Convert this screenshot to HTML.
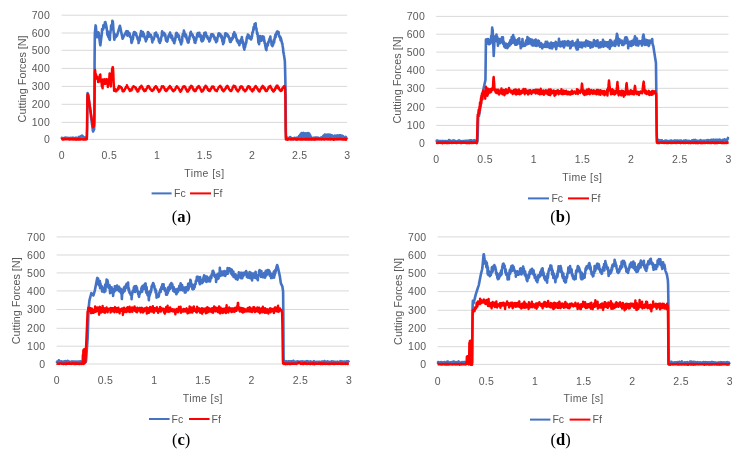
<!DOCTYPE html>
<html><head><meta charset="utf-8"><style>
html,body{margin:0;padding:0;background:#fff;}
svg{display:block;filter:blur(0.3px);}
text{font-family:"Liberation Sans",sans-serif;font-size:10.5px;fill:#595959;}
text.cap{font-family:"Liberation Serif",serif;font-size:16.5px;fill:#000;}
text.tt{letter-spacing:0.4px;}
text.tk{letter-spacing:0.3px;}
text.yt{font-size:10.8px;}
</style></head><body>
<svg width="755" height="457" viewBox="0 0 755 457">
<rect width="755" height="457" fill="#fff"/>
<line x1="61.60" x2="347.20" y1="139.40" y2="139.40" stroke="#D9D9D9" stroke-width="1"/>
<line x1="61.60" x2="347.20" y1="122.40" y2="122.40" stroke="#D9D9D9" stroke-width="1"/>
<line x1="61.60" x2="347.20" y1="104.30" y2="104.30" stroke="#D9D9D9" stroke-width="1"/>
<line x1="61.60" x2="347.20" y1="86.40" y2="86.40" stroke="#D9D9D9" stroke-width="1"/>
<line x1="61.60" x2="347.20" y1="68.40" y2="68.40" stroke="#D9D9D9" stroke-width="1"/>
<line x1="61.60" x2="347.20" y1="50.30" y2="50.30" stroke="#D9D9D9" stroke-width="1"/>
<line x1="61.60" x2="347.20" y1="33.00" y2="33.00" stroke="#D9D9D9" stroke-width="1"/>
<line x1="61.60" x2="347.20" y1="15.20" y2="15.20" stroke="#D9D9D9" stroke-width="1"/>
<text x="50.10" y="143.10" text-anchor="end" class="tk">0</text>
<text x="50.10" y="126.10" text-anchor="end" class="tk">100</text>
<text x="50.10" y="108.00" text-anchor="end" class="tk">200</text>
<text x="50.10" y="90.10" text-anchor="end" class="tk">300</text>
<text x="50.10" y="72.10" text-anchor="end" class="tk">400</text>
<text x="50.10" y="54.00" text-anchor="end" class="tk">500</text>
<text x="50.10" y="36.70" text-anchor="end" class="tk">600</text>
<text x="50.10" y="18.90" text-anchor="end" class="tk">700</text>
<text x="61.75" y="159.30" text-anchor="middle" class="tk">0</text>
<text x="109.35" y="159.30" text-anchor="middle" class="tk">0.5</text>
<text x="156.95" y="159.30" text-anchor="middle" class="tk">1</text>
<text x="204.55" y="159.30" text-anchor="middle" class="tk">1.5</text>
<text x="252.15" y="159.30" text-anchor="middle" class="tk">2</text>
<text x="299.75" y="159.30" text-anchor="middle" class="tk">2.5</text>
<text x="347.35" y="159.30" text-anchor="middle" class="tk">3</text>
<text x="204.40" y="176.60" text-anchor="middle" class="tt">Time [s]</text>
<text transform="translate(21.50,78.92) rotate(-90)" x="0" y="0" text-anchor="middle" dominant-baseline="central" class="yt">Cutting Forces [N]</text>
<line x1="151.6" x2="171.6" y1="193.4" y2="193.4" stroke="#4472C4" stroke-width="2"/>
<text x="174.0" y="197.20">Fc</text>
<line x1="190.0" x2="211.0" y1="193.4" y2="193.4" stroke="#FF0000" stroke-width="2"/>
<text x="213.0" y="197.20">Ff</text>
<text class="cap" x="181.3" y="222.2" text-anchor="middle">(<tspan font-weight="bold">a</tspan>)</text>
<line x1="436.20" x2="728.40" y1="143.10" y2="143.10" stroke="#D9D9D9" stroke-width="1"/>
<line x1="436.20" x2="728.40" y1="125.40" y2="125.40" stroke="#D9D9D9" stroke-width="1"/>
<line x1="436.20" x2="728.40" y1="107.40" y2="107.40" stroke="#D9D9D9" stroke-width="1"/>
<line x1="436.20" x2="728.40" y1="88.30" y2="88.30" stroke="#D9D9D9" stroke-width="1"/>
<line x1="436.20" x2="728.40" y1="70.20" y2="70.20" stroke="#D9D9D9" stroke-width="1"/>
<line x1="436.20" x2="728.40" y1="52.10" y2="52.10" stroke="#D9D9D9" stroke-width="1"/>
<line x1="436.20" x2="728.40" y1="34.20" y2="34.20" stroke="#D9D9D9" stroke-width="1"/>
<line x1="436.20" x2="728.40" y1="16.40" y2="16.40" stroke="#D9D9D9" stroke-width="1"/>
<text x="425.10" y="146.80" text-anchor="end" class="tk">0</text>
<text x="425.10" y="129.10" text-anchor="end" class="tk">100</text>
<text x="425.10" y="111.10" text-anchor="end" class="tk">200</text>
<text x="425.10" y="92.00" text-anchor="end" class="tk">300</text>
<text x="425.10" y="73.90" text-anchor="end" class="tk">400</text>
<text x="425.10" y="55.80" text-anchor="end" class="tk">500</text>
<text x="425.10" y="37.90" text-anchor="end" class="tk">600</text>
<text x="425.10" y="20.10" text-anchor="end" class="tk">700</text>
<text x="436.35" y="163.20" text-anchor="middle" class="tk">0</text>
<text x="485.05" y="163.20" text-anchor="middle" class="tk">0.5</text>
<text x="533.75" y="163.20" text-anchor="middle" class="tk">1</text>
<text x="582.45" y="163.20" text-anchor="middle" class="tk">1.5</text>
<text x="631.15" y="163.20" text-anchor="middle" class="tk">2</text>
<text x="679.85" y="163.20" text-anchor="middle" class="tk">2.5</text>
<text x="728.55" y="163.20" text-anchor="middle" class="tk">3</text>
<text x="582.30" y="180.60" text-anchor="middle" class="tt">Time [s]</text>
<text transform="translate(396.80,80.04) rotate(-90)" x="0" y="0" text-anchor="middle" dominant-baseline="central" class="yt">Cutting Forces [N]</text>
<line x1="528.0" x2="549.0" y1="198.4" y2="198.4" stroke="#4472C4" stroke-width="2"/>
<text x="551.4" y="202.20">Fc</text>
<line x1="568.0" x2="589.0" y1="198.4" y2="198.4" stroke="#FF0000" stroke-width="2"/>
<text x="591.0" y="202.20">Ff</text>
<text class="cap" x="560.4" y="222.4" text-anchor="middle">(<tspan font-weight="bold">b</tspan>)</text>
<line x1="56.60" x2="349.00" y1="364.00" y2="364.00" stroke="#D9D9D9" stroke-width="1"/>
<line x1="56.60" x2="349.00" y1="346.20" y2="346.20" stroke="#D9D9D9" stroke-width="1"/>
<line x1="56.60" x2="349.00" y1="328.30" y2="328.30" stroke="#D9D9D9" stroke-width="1"/>
<line x1="56.60" x2="349.00" y1="309.50" y2="309.50" stroke="#D9D9D9" stroke-width="1"/>
<line x1="56.60" x2="349.00" y1="290.90" y2="290.90" stroke="#D9D9D9" stroke-width="1"/>
<line x1="56.60" x2="349.00" y1="272.90" y2="272.90" stroke="#D9D9D9" stroke-width="1"/>
<line x1="56.60" x2="349.00" y1="255.00" y2="255.00" stroke="#D9D9D9" stroke-width="1"/>
<line x1="56.60" x2="349.00" y1="236.90" y2="236.90" stroke="#D9D9D9" stroke-width="1"/>
<text x="45.50" y="367.70" text-anchor="end" class="tk">0</text>
<text x="45.50" y="349.90" text-anchor="end" class="tk">100</text>
<text x="45.50" y="332.00" text-anchor="end" class="tk">200</text>
<text x="45.50" y="313.20" text-anchor="end" class="tk">300</text>
<text x="45.50" y="294.60" text-anchor="end" class="tk">400</text>
<text x="45.50" y="276.60" text-anchor="end" class="tk">500</text>
<text x="45.50" y="258.70" text-anchor="end" class="tk">600</text>
<text x="45.50" y="240.60" text-anchor="end" class="tk">700</text>
<text x="56.75" y="383.80" text-anchor="middle" class="tk">0</text>
<text x="105.48" y="383.80" text-anchor="middle" class="tk">0.5</text>
<text x="154.22" y="383.80" text-anchor="middle" class="tk">1</text>
<text x="202.95" y="383.80" text-anchor="middle" class="tk">1.5</text>
<text x="251.68" y="383.80" text-anchor="middle" class="tk">2</text>
<text x="300.42" y="383.80" text-anchor="middle" class="tk">2.5</text>
<text x="349.15" y="383.80" text-anchor="middle" class="tk">3</text>
<text x="202.80" y="401.60" text-anchor="middle" class="tt">Time [s]</text>
<text transform="translate(16.00,300.86) rotate(-90)" x="0" y="0" text-anchor="middle" dominant-baseline="central" class="yt">Cutting Forces [N]</text>
<line x1="149.0" x2="169.6" y1="419.0" y2="419.0" stroke="#4472C4" stroke-width="2"/>
<text x="171.6" y="422.80">Fc</text>
<line x1="189.0" x2="209.6" y1="419.0" y2="419.0" stroke="#FF0000" stroke-width="2"/>
<text x="211.6" y="422.80">Ff</text>
<text class="cap" x="181.2" y="444.7" text-anchor="middle">(<tspan font-weight="bold">c</tspan>)</text>
<line x1="437.60" x2="729.60" y1="364.40" y2="364.40" stroke="#D9D9D9" stroke-width="1"/>
<line x1="437.60" x2="729.60" y1="346.70" y2="346.70" stroke="#D9D9D9" stroke-width="1"/>
<line x1="437.60" x2="729.60" y1="328.60" y2="328.60" stroke="#D9D9D9" stroke-width="1"/>
<line x1="437.60" x2="729.60" y1="310.30" y2="310.30" stroke="#D9D9D9" stroke-width="1"/>
<line x1="437.60" x2="729.60" y1="291.60" y2="291.60" stroke="#D9D9D9" stroke-width="1"/>
<line x1="437.60" x2="729.60" y1="273.30" y2="273.30" stroke="#D9D9D9" stroke-width="1"/>
<line x1="437.60" x2="729.60" y1="255.30" y2="255.30" stroke="#D9D9D9" stroke-width="1"/>
<line x1="437.60" x2="729.60" y1="236.90" y2="236.90" stroke="#D9D9D9" stroke-width="1"/>
<text x="426.50" y="368.10" text-anchor="end" class="tk">0</text>
<text x="426.50" y="350.40" text-anchor="end" class="tk">100</text>
<text x="426.50" y="332.30" text-anchor="end" class="tk">200</text>
<text x="426.50" y="314.00" text-anchor="end" class="tk">300</text>
<text x="426.50" y="295.30" text-anchor="end" class="tk">400</text>
<text x="426.50" y="277.00" text-anchor="end" class="tk">500</text>
<text x="426.50" y="259.00" text-anchor="end" class="tk">600</text>
<text x="426.50" y="240.60" text-anchor="end" class="tk">700</text>
<text x="437.75" y="384.60" text-anchor="middle" class="tk">0</text>
<text x="486.42" y="384.60" text-anchor="middle" class="tk">0.5</text>
<text x="535.08" y="384.60" text-anchor="middle" class="tk">1</text>
<text x="583.75" y="384.60" text-anchor="middle" class="tk">1.5</text>
<text x="632.42" y="384.60" text-anchor="middle" class="tk">2</text>
<text x="681.08" y="384.60" text-anchor="middle" class="tk">2.5</text>
<text x="729.75" y="384.60" text-anchor="middle" class="tk">3</text>
<text x="583.60" y="402.00" text-anchor="middle" class="tt">Time [s]</text>
<text transform="translate(397.80,301.39) rotate(-90)" x="0" y="0" text-anchor="middle" dominant-baseline="central" class="yt">Cutting Forces [N]</text>
<line x1="530.0" x2="550.4" y1="419.6" y2="419.6" stroke="#4472C4" stroke-width="2"/>
<text x="552.4" y="423.40">Fc</text>
<line x1="569.6" x2="590.4" y1="419.6" y2="419.6" stroke="#FF0000" stroke-width="2"/>
<text x="592.6" y="423.40">Ff</text>
<text class="cap" x="560.6" y="444.9" text-anchor="middle">(<tspan font-weight="bold">d</tspan>)</text>
<polyline points="61.60,138.63 61.85,137.96 62.10,138.63 62.35,138.35 62.60,138.02 62.85,138.54 63.10,138.37 63.35,138.29 63.60,138.30 63.85,138.76 64.10,138.29 64.35,137.83 64.60,138.86 64.85,138.00 65.10,138.26 65.35,138.53 65.60,137.59 65.85,138.03 66.10,138.72 66.35,138.27 66.60,138.09 66.85,138.36 67.10,138.04 67.35,138.31 67.60,138.04 67.85,137.76 68.10,138.52 68.35,138.20 68.60,138.43 68.85,138.22 69.10,138.69 69.35,138.47 69.60,138.33 69.85,137.94 70.10,137.84 70.35,138.72 70.60,138.53 70.85,138.01 71.10,138.95 71.35,138.40 71.60,138.27 71.85,137.79 72.10,137.99 72.35,138.34 72.60,138.36 72.85,138.31 73.10,137.68 73.35,138.37 73.60,138.32 73.85,138.09 74.10,138.25 74.35,138.28 74.60,138.60 74.85,138.21 75.10,138.36 75.35,137.78 75.60,137.96 75.85,138.20 76.10,137.95 76.35,138.31 76.60,137.81 76.85,138.18 77.10,137.97 77.35,138.63 77.60,138.05 77.85,138.77 78.10,138.85 78.35,138.12 78.60,138.22 78.85,137.73 79.10,136.88 79.35,137.86 79.60,137.68 79.85,137.27 80.10,137.01 80.35,137.03 80.60,136.81 80.85,136.27 81.10,136.11 81.35,136.44 81.60,135.88 81.85,135.62 82.10,136.01 82.35,135.90 82.60,136.66 82.85,136.36 83.10,136.99 83.35,137.39 83.60,137.86 83.85,137.75 84.10,138.47 84.35,138.21 84.60,137.73 84.85,138.67 85.10,137.66 85.35,138.63 85.60,137.79 85.85,138.41 86.10,137.88 86.35,138.17 86.60,138.81 86.85,137.87 87.10,126.90 87.35,98.29 87.60,93.01 87.85,93.56 88.10,94.12 88.35,95.51 88.60,97.46 88.85,99.41 89.10,101.36 89.35,103.31 89.60,105.26 89.85,107.20 90.10,109.15 90.35,111.10 90.60,113.05 90.85,115.00 91.10,116.95 91.35,118.89 91.60,120.84 91.85,122.79 92.10,124.74 92.35,126.69 92.60,128.64 92.85,130.58 93.10,131.55 93.35,131.03 93.60,130.52 93.85,130.01 94.10,129.49 94.35,117.35 94.60,58.67 94.85,33.57 95.10,30.86 95.35,28.14 95.60,25.42 95.85,26.17 96.10,29.22 96.35,32.28 96.60,34.13 96.85,35.69 97.10,37.25 97.35,37.15 97.60,35.96 97.85,34.76 98.10,33.56 98.35,32.36 98.60,32.42 98.85,34.38 99.10,36.33 99.35,38.28 99.60,40.24 99.85,42.19 100.10,44.15 100.35,45.32 100.60,43.35 100.85,41.37 101.10,39.40 101.35,37.43 101.60,35.46 101.85,33.48 102.10,28.94 102.35,29.66 102.60,29.25 102.85,28.57 103.10,29.55 103.35,25.37 103.60,27.82 103.85,26.48 104.10,27.38 104.35,26.66 104.60,27.39 104.85,22.45 105.10,24.54 105.35,22.12 105.60,23.40 105.85,24.23 106.10,24.76 106.35,26.76 106.60,27.33 106.85,29.60 107.10,31.05 107.35,34.55 107.60,35.12 107.85,31.55 108.10,35.99 108.35,36.98 108.60,34.80 108.85,33.20 109.10,38.60 109.35,36.69 109.60,37.74 109.85,40.06 110.10,33.92 110.35,33.08 110.60,30.72 110.85,29.99 111.10,25.65 111.35,26.23 111.60,25.00 111.85,26.19 112.10,25.86 112.35,20.79 112.60,23.55 112.85,21.60 113.10,24.60 113.35,28.47 113.60,31.74 113.85,32.86 114.10,37.67 114.35,39.72 114.60,38.38 114.85,35.30 115.10,35.15 115.35,34.66 115.60,35.32 115.85,37.12 116.10,35.00 116.35,35.34 116.60,35.68 116.85,36.02 117.10,35.39 117.35,34.52 117.60,33.64 117.85,32.76 118.10,31.89 118.35,31.01 118.60,30.14 118.85,29.26 119.10,28.38 119.35,27.51 119.60,26.63 119.85,25.76 120.10,26.56 120.35,27.78 120.60,29.00 120.85,30.22 121.10,31.44 121.35,32.66 121.60,33.88 121.85,35.10 122.10,36.32 122.35,37.54 122.60,38.76 122.85,38.26 123.10,37.75 123.35,37.25 123.60,36.74 123.85,36.23 124.10,35.73 124.35,35.22 124.60,34.72 124.85,34.21 125.10,33.71 125.35,33.22 125.60,32.72 125.85,32.22 126.10,31.72 126.35,31.23 126.60,31.48 126.85,32.86 127.10,34.24 127.35,35.62 127.60,31.20 127.85,31.39 128.10,32.87 128.35,32.47 128.60,32.53 128.85,32.79 129.10,33.01 129.35,34.85 129.60,33.21 129.85,36.77 130.10,35.29 130.35,36.59 130.60,37.20 130.85,37.14 131.10,38.48 131.35,42.00 131.60,42.97 131.85,40.29 132.10,41.83 132.35,39.93 132.60,37.88 132.85,39.18 133.10,38.25 133.35,34.36 133.60,33.42 133.85,32.84 134.10,31.97 134.35,32.68 134.60,33.41 134.85,32.23 135.10,33.46 135.35,34.58 135.60,32.69 135.85,33.68 136.10,33.56 136.35,35.47 136.60,35.63 136.85,36.64 137.10,37.33 137.35,37.13 137.60,39.23 137.85,39.09 138.10,40.07 138.35,38.99 138.60,43.05 138.85,40.62 139.10,41.24 139.35,40.34 139.60,40.73 139.85,38.30 140.10,35.57 140.35,35.07 140.60,33.69 140.85,33.15 141.10,30.99 141.35,31.94 141.60,34.24 141.85,32.83 142.10,34.52 142.35,36.26 142.60,33.72 142.85,32.07 143.10,33.77 143.35,35.42 143.60,35.59 143.85,33.90 144.10,35.59 144.35,36.47 144.60,37.43 144.85,38.20 145.10,38.17 145.35,39.12 145.60,39.91 145.85,41.36 146.10,39.47 146.35,40.19 146.60,37.47 146.85,39.01 147.10,36.75 147.35,35.60 147.60,36.15 147.85,32.24 148.10,32.11 148.35,33.99 148.60,32.71 148.85,33.28 149.10,36.73 149.35,33.96 149.60,34.60 149.85,34.74 150.10,36.27 150.35,35.71 150.60,35.96 150.85,34.94 151.10,36.40 151.35,37.43 151.60,36.55 151.85,39.59 152.10,40.18 152.35,42.34 152.60,39.15 152.85,39.96 153.10,39.87 153.35,39.69 153.60,39.57 153.85,38.54 154.10,38.02 154.35,36.94 154.60,35.73 154.85,33.41 155.10,33.89 155.35,34.24 155.60,34.71 155.85,34.83 156.10,32.62 156.35,34.04 156.60,34.78 156.85,35.49 157.10,36.56 157.35,35.73 157.60,35.06 157.85,36.85 158.10,37.24 158.35,37.96 158.60,38.46 158.85,41.22 159.10,40.71 159.35,42.19 159.60,40.93 159.85,42.99 160.10,41.46 160.35,39.97 160.60,41.09 160.85,40.24 161.10,38.06 161.35,36.87 161.60,36.60 161.85,33.92 162.10,31.40 162.35,33.27 162.60,32.96 162.85,33.91 163.10,32.73 163.35,34.77 163.60,35.00 163.85,32.82 164.10,35.49 164.35,33.71 164.60,33.60 164.85,35.40 165.10,35.65 165.35,34.84 165.60,37.91 165.85,39.16 166.10,40.77 166.35,39.96 166.60,38.95 166.85,39.74 167.10,41.70 167.35,41.21 167.60,40.17 167.85,38.45 168.10,38.02 168.35,36.61 168.60,35.65 168.85,35.59 169.10,34.83 169.35,34.30 169.60,34.55 169.85,34.01 170.10,32.65 170.35,34.21 170.60,35.00 170.85,37.10 171.10,35.11 171.35,37.85 171.60,37.56 171.85,35.50 172.10,36.13 172.35,37.65 172.60,40.07 172.85,39.49 173.10,40.72 173.35,40.17 173.60,39.13 173.85,41.75 174.10,42.95 174.35,43.14 174.60,41.35 174.85,40.57 175.10,40.46 175.35,37.84 175.60,37.94 175.85,34.39 176.10,33.54 176.35,32.90 176.60,34.23 176.85,33.12 177.10,34.00 177.35,34.59 177.60,34.92 177.85,36.32 178.10,36.83 178.35,34.79 178.60,36.22 178.85,36.25 179.10,36.00 179.35,39.66 179.60,39.55 179.85,39.54 180.10,40.35 180.35,42.16 180.60,41.42 180.85,42.76 181.10,44.37 181.35,43.74 181.60,41.14 181.85,40.41 182.10,41.60 182.35,36.69 182.60,36.07 182.85,34.01 183.10,34.84 183.35,34.05 183.60,34.55 183.85,30.53 184.10,33.57 184.35,31.96 184.60,34.69 184.85,34.17 185.10,36.46 185.35,35.39 185.60,34.26 185.85,37.04 186.10,35.06 186.35,36.48 186.60,38.73 186.85,39.03 187.10,39.90 187.35,40.33 187.60,41.59 187.85,42.39 188.10,41.99 188.35,42.55 188.60,42.25 188.85,40.03 189.10,37.92 189.35,39.28 189.60,36.43 189.85,36.05 190.10,35.53 190.35,32.98 190.60,34.12 190.85,31.90 191.10,34.45 191.35,33.44 191.60,34.41 191.85,35.29 192.10,34.16 192.35,35.25 192.60,34.74 192.85,35.78 193.10,37.32 193.35,36.82 193.60,37.33 193.85,37.13 194.10,39.95 194.35,39.82 194.60,42.30 194.85,40.22 195.10,42.25 195.35,42.89 195.60,40.56 195.85,38.56 196.10,40.40 196.35,38.85 196.60,37.37 196.85,36.77 197.10,34.31 197.35,34.97 197.60,34.50 197.85,32.97 198.10,34.44 198.35,33.33 198.60,35.07 198.85,35.58 199.10,36.49 199.35,32.78 199.60,35.35 199.85,35.02 200.10,35.67 200.35,35.92 200.60,36.61 200.85,35.30 201.10,39.19 201.35,40.48 201.60,40.57 201.85,41.44 202.10,39.49 202.35,39.40 202.60,40.98 202.85,40.83 203.10,38.88 203.35,36.02 203.60,39.50 203.85,34.95 204.10,35.85 204.35,32.97 204.60,34.86 204.85,33.86 205.10,35.21 205.35,34.82 205.60,32.56 205.85,33.45 206.10,35.05 206.35,35.82 206.60,37.19 206.85,35.89 207.10,35.87 207.35,36.39 207.60,36.98 207.85,38.77 208.10,38.40 208.35,39.15 208.60,38.43 208.85,38.36 209.10,40.83 209.35,41.53 209.60,40.52 209.85,40.54 210.10,39.88 210.35,38.19 210.60,38.22 210.85,35.48 211.10,35.39 211.35,34.36 211.60,34.39 211.85,34.77 212.10,35.00 212.35,34.37 212.60,34.93 212.85,34.36 213.10,34.88 213.35,36.59 213.60,35.32 213.85,37.11 214.10,36.67 214.35,36.77 214.60,39.24 214.85,37.61 215.10,38.32 215.35,39.47 215.60,40.53 215.85,41.10 216.10,42.15 216.35,41.52 216.60,41.61 216.85,40.39 217.10,40.96 217.35,38.40 217.60,37.39 217.85,36.58 218.10,35.91 218.35,34.06 218.60,35.88 218.85,33.31 219.10,33.48 219.35,33.55 219.60,33.69 219.85,35.09 220.10,34.98 220.35,34.31 220.60,34.82 220.85,35.36 221.10,37.56 221.35,35.82 221.60,35.74 221.85,36.63 222.10,38.28 222.35,41.07 222.60,39.24 222.85,41.12 223.10,44.17 223.35,41.25 223.60,43.10 223.85,42.39 224.10,40.87 224.35,37.80 224.60,38.39 224.85,36.54 225.10,33.91 225.35,33.22 225.60,34.42 225.85,34.23 226.10,35.24 226.35,34.74 226.60,33.79 226.85,34.14 227.10,34.78 227.35,34.15 227.60,36.35 227.85,35.91 228.10,35.44 228.35,36.07 228.60,36.14 228.85,37.59 229.10,37.62 229.35,38.78 229.60,39.94 229.85,41.10 230.10,41.92 230.35,40.70 230.60,41.65 230.85,41.82 231.10,38.95 231.35,39.12 231.60,38.22 231.85,39.86 232.10,37.93 232.35,37.68 232.60,37.45 232.85,38.43 233.10,35.88 233.35,34.05 233.60,34.10 233.85,34.64 234.10,33.51 234.35,32.18 234.60,36.43 234.85,34.36 235.10,34.38 235.35,34.98 235.60,34.63 235.85,35.98 236.10,37.60 236.35,38.35 236.60,38.58 236.85,40.74 237.10,40.95 237.35,40.68 237.60,39.95 237.85,42.52 238.10,42.72 238.35,42.77 238.60,41.85 238.85,43.63 239.10,42.34 239.35,45.26 239.60,43.95 239.85,43.30 240.10,41.58 240.35,40.63 240.60,42.69 240.85,41.39 241.10,39.38 241.35,39.78 241.60,40.04 241.85,36.99 242.10,38.69 242.35,39.82 242.60,41.97 242.85,41.49 243.10,43.97 243.35,43.66 243.60,46.93 243.85,47.99 244.10,47.98 244.35,49.66 244.60,47.28 244.85,46.81 245.10,47.16 245.35,45.18 245.60,44.72 245.85,42.45 246.10,43.20 246.35,42.08 246.60,39.40 246.85,37.39 247.10,36.73 247.35,37.88 247.60,36.80 247.85,34.49 248.10,35.34 248.35,36.11 248.60,35.31 248.85,35.33 249.10,37.07 249.35,38.31 249.60,38.46 249.85,36.58 250.10,38.48 250.35,38.19 250.60,38.18 250.85,38.12 251.10,39.51 251.35,38.05 251.60,38.35 251.85,36.60 252.10,36.12 252.35,32.63 252.60,32.68 252.85,32.25 253.10,30.65 253.35,29.32 253.60,27.15 253.85,29.29 254.10,28.38 254.35,27.37 254.60,23.94 254.85,25.32 255.10,26.15 255.35,24.95 255.60,23.21 255.85,26.99 256.10,28.47 256.35,28.12 256.60,30.22 256.85,31.37 257.10,33.96 257.35,32.70 257.60,34.27 257.85,36.82 258.10,38.03 258.35,42.40 258.60,41.02 258.85,43.38 259.10,44.18 259.35,41.59 259.60,40.36 259.85,39.47 260.10,36.03 260.35,37.59 260.60,37.53 260.85,38.20 261.10,38.30 261.35,40.78 261.60,37.39 261.85,38.80 262.10,37.87 262.35,36.35 262.60,37.85 262.85,39.21 263.10,37.64 263.35,37.38 263.60,36.81 263.85,37.52 264.10,41.08 264.35,39.91 264.60,43.23 264.85,42.63 265.10,44.40 265.35,45.96 265.60,47.04 265.85,48.87 266.10,49.52 266.35,50.07 266.60,47.72 266.85,45.13 267.10,44.40 267.35,44.52 267.60,44.59 267.85,45.48 268.10,42.37 268.35,43.06 268.60,42.16 268.85,41.49 269.10,40.16 269.35,39.81 269.60,38.52 269.85,38.68 270.10,38.48 270.35,36.57 270.60,40.01 270.85,41.11 271.10,41.22 271.35,41.96 271.60,44.83 271.85,44.79 272.10,44.51 272.35,46.13 272.60,45.75 272.85,43.31 273.10,44.78 273.35,43.06 273.60,42.79 273.85,39.74 274.10,42.51 274.35,40.23 274.60,39.17 274.85,37.03 275.10,36.39 275.35,34.85 275.60,37.33 275.85,34.15 276.10,34.57 276.35,34.28 276.60,32.30 276.85,33.16 277.10,33.70 277.35,31.43 277.60,33.17 277.85,32.80 278.10,32.24 278.35,32.84 278.60,32.01 278.85,34.45 279.10,36.41 279.35,36.12 279.60,36.83 279.85,37.69 280.10,36.53 280.35,38.29 280.60,40.32 280.85,38.06 281.10,39.53 281.35,39.97 281.60,41.39 281.85,41.99 282.10,43.78 282.35,43.66 282.60,45.69 282.85,47.18 283.10,48.82 283.35,52.48 283.60,52.76 283.85,54.53 284.10,55.91 284.35,57.61 284.60,59.33 284.85,61.04 285.10,69.70 285.35,80.09 285.60,99.24 285.85,131.53 286.10,138.00 286.35,137.91 286.60,138.62 286.85,137.29 287.10,137.98 287.35,138.58 287.60,138.81 287.85,138.18 288.10,138.11 288.35,138.39 288.60,138.04 288.85,138.38 289.10,137.86 289.35,138.43 289.60,138.14 289.85,137.69 290.10,136.99 290.35,138.59 290.60,138.36 290.85,138.54 291.10,137.82 291.35,138.69 291.60,138.41 291.85,138.21 292.10,138.64 292.35,138.64 292.60,138.44 292.85,139.17 293.10,138.89 293.35,138.44 293.60,138.19 293.85,138.35 294.10,139.07 294.35,138.49 294.60,137.94 294.85,138.06 295.10,138.35 295.35,138.72 295.60,138.05 295.85,138.60 296.10,138.86 296.35,138.70 296.60,137.70 296.85,138.24 297.10,137.82 297.35,138.55 297.60,137.92 297.85,138.70 298.10,138.16 298.35,138.59 298.60,137.07 298.85,138.92 299.10,136.04 299.35,138.63 299.60,135.78 299.85,138.70 300.10,135.06 300.35,138.65 300.60,134.21 300.85,138.86 301.10,133.78 301.35,138.57 301.60,133.14 301.85,138.16 302.10,133.75 302.35,138.61 302.60,134.15 302.85,138.86 303.10,132.96 303.35,139.17 303.60,133.08 303.85,138.51 304.10,133.79 304.35,138.36 304.60,133.80 304.85,138.21 305.10,134.05 305.35,139.17 305.60,133.23 305.85,138.76 306.10,133.97 306.35,138.68 306.60,133.79 306.85,138.64 307.10,133.23 307.35,138.26 307.60,134.08 307.85,138.59 308.10,132.94 308.35,138.75 308.60,133.20 308.85,139.19 309.10,133.57 309.35,138.62 309.60,134.42 309.85,138.46 310.10,135.35 310.35,138.98 310.60,136.39 310.85,138.83 311.10,137.48 311.35,138.74 311.60,138.32 311.85,137.91 312.10,138.22 312.35,138.01 312.60,138.46 312.85,139.18 313.10,137.83 313.35,137.91 313.60,138.16 313.85,138.19 314.10,137.76 314.35,138.42 314.60,138.53 314.85,138.30 315.10,137.68 315.35,138.83 315.60,137.68 315.85,138.49 316.10,138.70 316.35,137.64 316.60,138.24 316.85,138.78 317.10,138.36 317.35,137.78 317.60,137.66 317.85,138.38 318.10,138.01 318.35,137.87 318.60,138.47 318.85,138.03 319.10,138.20 319.35,138.42 319.60,138.40 319.85,138.15 320.10,138.16 320.35,138.43 320.60,138.36 320.85,137.68 321.10,138.07 321.35,137.77 321.60,138.70 321.85,138.12 322.10,138.81 322.35,137.53 322.60,138.76 322.85,136.56 323.10,138.67 323.35,136.01 323.60,138.51 323.85,135.24 324.10,138.88 324.35,135.33 324.60,138.74 324.85,134.62 325.10,138.61 325.35,135.36 325.60,138.75 325.85,135.06 326.10,138.63 326.35,134.88 326.60,138.30 326.85,135.11 327.10,138.78 327.35,134.86 327.60,138.35 327.85,134.78 328.10,138.73 328.35,134.68 328.60,138.71 328.85,134.54 329.10,138.90 329.35,135.29 329.60,138.40 329.85,135.14 330.10,138.39 330.35,134.86 330.60,138.69 330.85,135.33 331.10,138.44 331.35,135.39 331.60,138.32 331.85,135.34 332.10,138.70 332.35,138.25 332.60,138.65 332.85,137.79 333.10,138.71 333.35,137.15 333.60,138.49 333.85,136.81 334.10,138.70 334.35,135.84 334.60,138.77 334.85,135.85 335.10,138.66 335.35,135.80 335.60,138.39 335.85,135.97 336.10,138.91 336.35,135.98 336.60,138.55 336.85,135.82 337.10,138.41 337.35,135.39 337.60,138.38 337.85,135.85 338.10,139.06 338.35,135.75 338.60,138.36 338.85,135.48 339.10,139.02 339.35,135.53 339.60,138.40 339.85,135.33 340.10,138.54 340.35,135.41 340.60,138.45 340.85,135.78 341.10,138.99 341.35,135.51 341.60,138.97 341.85,135.76 342.10,138.34 342.35,135.76 342.60,138.69 342.85,136.04 343.10,138.81 343.35,136.59 343.60,138.54 343.85,137.42 344.10,138.74 344.35,138.01 344.60,138.65 344.85,138.54 345.10,138.12 345.35,138.62 345.60,137.95 345.85,136.91 346.10,137.49 346.35,138.49 346.60,138.38 346.85,138.17 347.10,137.54" fill="none" stroke="#4472C4" stroke-width="2.6" stroke-linejoin="round" stroke-linecap="butt"/>
<polyline points="61.60,139.50 61.85,139.18 62.10,139.14 62.35,139.39 62.60,139.07 62.85,139.34 63.10,139.43 63.35,139.20 63.60,139.07 63.85,139.37 64.10,139.16 64.35,139.26 64.60,138.63 64.85,139.39 65.10,138.94 65.35,139.25 65.60,139.26 65.85,139.08 66.10,139.04 66.35,138.96 66.60,139.17 66.85,139.36 67.10,139.35 67.35,139.13 67.60,139.11 67.85,138.94 68.10,139.15 68.35,139.01 68.60,138.91 68.85,139.20 69.10,139.55 69.35,139.49 69.60,139.54 69.85,138.90 70.10,139.42 70.35,138.97 70.60,139.11 70.85,138.87 71.10,139.02 71.35,139.26 71.60,139.28 71.85,139.22 72.10,139.20 72.35,139.35 72.60,139.24 72.85,138.89 73.10,139.60 73.35,139.18 73.60,139.43 73.85,139.20 74.10,139.06 74.35,139.25 74.60,139.07 74.85,139.58 75.10,139.00 75.35,139.36 75.60,139.10 75.85,139.20 76.10,139.77 76.35,139.40 76.60,139.19 76.85,138.90 77.10,139.17 77.35,139.18 77.60,139.54 77.85,138.93 78.10,138.85 78.35,139.23 78.60,139.28 78.85,139.58 79.10,139.05 79.35,138.66 79.60,139.08 79.85,138.97 80.10,139.12 80.35,139.45 80.60,138.95 80.85,139.50 81.10,139.28 81.35,139.18 81.60,139.05 81.85,139.15 82.10,139.15 82.35,139.40 82.60,139.51 82.85,139.22 83.10,139.39 83.35,139.52 83.60,139.51 83.85,139.34 84.10,139.63 84.35,139.52 84.60,139.59 84.85,139.20 85.10,139.15 85.35,138.81 85.60,139.56 85.85,139.38 86.10,139.04 86.35,139.28 86.60,139.31 86.85,138.87 87.10,127.88 87.35,99.49 87.60,94.17 87.85,94.61 88.10,95.06 88.35,96.24 88.60,97.91 88.85,99.58 89.10,101.25 89.35,102.92 89.60,104.59 89.85,106.26 90.10,107.93 90.35,109.60 90.60,111.27 90.85,112.94 91.10,114.61 91.35,116.28 91.60,117.95 91.85,119.62 92.10,121.29 92.35,122.96 92.60,124.63 92.85,126.30 93.10,127.16 93.35,126.82 93.60,126.48 93.85,126.14 94.10,125.79 94.35,120.74 94.60,96.84 94.85,72.94 95.10,70.06 95.35,73.07 95.60,75.03 95.85,74.08 96.10,75.34 96.35,78.49 96.60,78.34 96.85,76.37 97.10,76.77 97.35,79.20 97.60,77.63 97.85,78.18 98.10,82.13 98.35,79.51 98.60,78.07 98.85,79.39 99.10,81.63 99.35,78.39 99.60,76.46 99.85,74.87 100.10,81.16 100.35,74.46 100.60,81.45 100.85,79.12 101.10,79.67 101.35,81.08 101.60,83.42 101.85,86.52 102.10,84.10 102.35,85.88 102.60,88.40 102.85,79.44 103.10,82.46 103.35,80.30 103.60,84.30 103.85,80.11 104.10,79.54 104.35,79.24 104.60,81.41 104.85,82.95 105.10,80.95 105.35,83.84 105.60,82.68 105.85,79.45 106.10,81.32 106.35,80.86 106.60,81.64 106.85,79.24 107.10,81.12 107.35,84.14 107.60,83.00 107.85,87.06 108.10,86.07 108.35,82.06 108.60,83.51 108.85,79.96 109.10,80.04 109.35,76.75 109.60,73.34 109.85,76.19 110.10,75.22 110.35,80.01 110.60,83.40 110.85,86.52 111.10,82.39 111.35,76.93 111.60,75.93 111.85,73.85 112.10,68.86 112.35,69.77 112.60,67.19 112.85,67.25 113.10,68.90 113.35,73.59 113.60,80.70 113.85,85.63 114.10,90.92 114.35,89.00 114.60,90.71 114.85,88.80 115.10,90.23 115.35,90.15 115.60,90.30 115.85,91.36 116.10,91.21 116.35,91.28 116.60,90.44 116.85,89.82 117.10,89.92 117.35,90.08 117.60,88.85 117.85,89.71 118.10,87.88 118.35,88.36 118.60,88.85 118.85,86.02 119.10,86.17 119.35,87.08 119.60,86.39 119.85,86.51 120.10,86.43 120.35,87.30 120.60,87.20 120.85,87.03 121.10,87.55 121.35,87.58 121.60,88.56 121.85,88.04 122.10,89.87 122.35,89.85 122.60,91.18 122.85,91.16 123.10,90.20 123.35,91.29 123.60,90.60 123.85,90.74 124.10,90.94 124.35,90.31 124.60,89.99 124.85,89.53 125.10,88.50 125.35,88.06 125.60,88.13 125.85,87.84 126.10,86.93 126.35,86.80 126.60,86.09 126.85,85.25 127.10,86.05 127.35,86.54 127.60,86.81 127.85,87.41 128.10,87.80 128.35,88.28 128.60,88.48 128.85,88.98 129.10,88.94 129.35,89.90 129.60,90.21 129.85,90.99 130.10,89.96 130.35,90.61 130.60,90.07 130.85,90.44 131.10,89.96 131.35,90.47 131.60,89.69 131.85,88.39 132.10,89.67 132.35,88.12 132.60,87.40 132.85,87.51 133.10,86.94 133.35,86.36 133.60,86.96 133.85,86.30 134.10,86.81 134.35,86.76 134.60,86.88 134.85,86.90 135.10,87.10 135.35,87.36 135.60,88.66 135.85,87.59 136.10,88.46 136.35,89.13 136.60,90.05 136.85,90.30 137.10,90.31 137.35,90.57 137.60,91.63 137.85,90.52 138.10,89.41 138.35,91.37 138.60,89.77 138.85,89.68 139.10,89.46 139.35,88.31 139.60,88.99 139.85,87.90 140.10,86.85 140.35,87.22 140.60,87.00 140.85,86.53 141.10,86.65 141.35,85.71 141.60,86.92 141.85,86.28 142.10,87.53 142.35,87.01 142.60,87.79 142.85,89.39 143.10,88.70 143.35,89.67 143.60,89.84 143.85,89.34 144.10,90.90 144.35,91.13 144.60,90.15 144.85,90.82 145.10,90.12 145.35,90.52 145.60,90.82 145.85,90.11 146.10,89.12 146.35,88.79 146.60,88.74 146.85,88.23 147.10,87.84 147.35,87.62 147.60,86.11 147.85,86.70 148.10,87.03 148.35,86.64 148.60,86.11 148.85,86.27 149.10,86.85 149.35,87.40 149.60,87.47 149.85,88.69 150.10,89.00 150.35,88.52 150.60,89.58 150.85,89.63 151.10,89.63 151.35,90.21 151.60,90.72 151.85,89.87 152.10,90.56 152.35,90.94 152.60,90.25 152.85,90.11 153.10,90.32 153.35,89.47 153.60,89.11 153.85,89.45 154.10,88.14 154.35,87.74 154.60,87.40 154.85,87.62 155.10,86.78 155.35,86.48 155.60,86.37 155.85,87.00 156.10,86.35 156.35,87.46 156.60,87.34 156.85,87.06 157.10,88.43 157.35,88.83 157.60,88.59 157.85,89.72 158.10,90.10 158.35,90.23 158.60,90.12 158.85,91.80 159.10,91.25 159.35,91.30 159.60,91.20 159.85,90.87 160.10,90.54 160.35,89.63 160.60,89.72 160.85,88.78 161.10,88.17 161.35,88.21 161.60,87.38 161.85,86.31 162.10,86.61 162.35,86.84 162.60,86.46 162.85,86.85 163.10,86.41 163.35,86.34 163.60,87.40 163.85,87.49 164.10,87.32 164.35,88.53 164.60,88.70 164.85,89.74 165.10,90.09 165.35,90.35 165.60,89.48 165.85,90.87 166.10,91.07 166.35,91.12 166.60,90.87 166.85,90.33 167.10,90.27 167.35,89.09 167.60,89.50 167.85,88.48 168.10,88.52 168.35,87.89 168.60,88.34 168.85,87.34 169.10,86.96 169.35,86.77 169.60,87.45 169.85,86.03 170.10,86.63 170.35,86.79 170.60,86.95 170.85,87.27 171.10,87.38 171.35,88.58 171.60,88.91 171.85,88.86 172.10,89.39 172.35,90.06 172.60,90.52 172.85,90.93 173.10,90.78 173.35,90.33 173.60,91.33 173.85,90.06 174.10,90.15 174.35,90.43 174.60,89.50 174.85,90.06 175.10,89.71 175.35,89.02 175.60,88.15 175.85,87.67 176.10,87.36 176.35,86.77 176.60,87.53 176.85,86.23 177.10,87.05 177.35,86.79 177.60,86.87 177.85,87.48 178.10,87.93 178.35,88.19 178.60,88.21 178.85,88.43 179.10,88.93 179.35,90.08 179.60,90.40 179.85,90.80 180.10,90.45 180.35,91.72 180.60,90.32 180.85,91.04 181.10,91.02 181.35,90.27 181.60,89.62 181.85,89.53 182.10,88.76 182.35,88.68 182.60,87.71 182.85,87.23 183.10,87.40 183.35,86.35 183.60,86.63 183.85,86.48 184.10,86.83 184.35,86.57 184.60,86.22 184.85,87.37 185.10,86.81 185.35,87.33 185.60,87.80 185.85,89.38 186.10,88.93 186.35,89.08 186.60,90.15 186.85,90.15 187.10,91.56 187.35,90.43 187.60,91.14 187.85,90.48 188.10,91.59 188.35,90.27 188.60,90.40 188.85,89.57 189.10,89.91 189.35,89.31 189.60,87.55 189.85,88.43 190.10,87.92 190.35,87.33 190.60,87.32 190.85,86.09 191.10,85.70 191.35,86.73 191.60,87.24 191.85,86.12 192.10,86.40 192.35,86.88 192.60,87.14 192.85,88.50 193.10,88.67 193.35,89.70 193.60,90.18 193.85,89.53 194.10,90.63 194.35,89.59 194.60,90.75 194.85,91.15 195.10,90.49 195.35,89.91 195.60,90.26 195.85,90.70 196.10,89.60 196.35,88.71 196.60,89.06 196.85,88.70 197.10,87.42 197.35,87.38 197.60,87.55 197.85,86.93 198.10,86.88 198.35,86.30 198.60,86.38 198.85,86.02 199.10,86.42 199.35,87.72 199.60,87.22 199.85,87.43 200.10,88.10 200.35,88.33 200.60,89.52 200.85,90.15 201.10,89.71 201.35,90.92 201.60,91.65 201.85,90.38 202.10,91.19 202.35,90.94 202.60,91.25 202.85,90.95 203.10,90.52 203.35,89.75 203.60,88.96 203.85,89.67 204.10,87.82 204.35,88.22 204.60,87.76 204.85,86.63 205.10,86.69 205.35,87.17 205.60,85.60 205.85,86.84 206.10,86.49 206.35,86.75 206.60,86.54 206.85,87.77 207.10,87.57 207.35,88.83 207.60,88.49 207.85,89.80 208.10,90.05 208.35,89.42 208.60,90.41 208.85,90.71 209.10,89.86 209.35,90.69 209.60,91.11 209.85,90.20 210.10,90.75 210.35,89.35 210.60,88.87 210.85,89.19 211.10,88.73 211.35,87.89 211.60,87.52 211.85,87.57 212.10,86.56 212.35,87.49 212.60,86.64 212.85,86.60 213.10,86.62 213.35,86.55 213.60,87.51 213.85,87.06 214.10,87.82 214.35,88.50 214.60,89.30 214.85,89.70 215.10,89.47 215.35,90.48 215.60,90.36 215.85,90.18 216.10,90.35 216.35,90.18 216.60,90.95 216.85,91.15 217.10,89.96 217.35,89.95 217.60,89.18 217.85,89.22 218.10,88.21 218.35,87.88 218.60,87.47 218.85,87.13 219.10,86.82 219.35,86.60 219.60,86.41 219.85,85.98 220.10,86.67 220.35,85.79 220.60,86.83 220.85,86.66 221.10,87.52 221.35,88.03 221.60,87.49 221.85,89.03 222.10,89.93 222.35,90.12 222.60,90.33 222.85,89.54 223.10,90.63 223.35,90.43 223.60,91.31 223.85,90.62 224.10,90.28 224.35,89.49 224.60,90.24 224.85,89.23 225.10,88.90 225.35,89.00 225.60,88.07 225.85,87.73 226.10,88.24 226.35,86.60 226.60,86.38 226.85,86.66 227.10,87.01 227.35,85.82 227.60,86.52 227.85,86.45 228.10,86.61 228.35,87.88 228.60,87.75 228.85,88.70 229.10,89.11 229.35,89.58 229.60,89.97 229.85,89.83 230.10,90.55 230.35,90.86 230.60,90.99 230.85,90.69 231.10,91.11 231.35,90.70 231.60,90.18 231.85,90.02 232.10,89.37 232.35,89.11 232.60,87.46 232.85,87.29 233.10,87.24 233.35,87.08 233.60,85.78 233.85,86.40 234.10,86.47 234.35,86.29 234.60,86.39 234.85,86.10 235.10,87.04 235.35,86.46 235.60,88.22 235.85,87.99 236.10,89.24 236.35,88.46 236.60,89.87 236.85,90.15 237.10,90.04 237.35,90.13 237.60,91.33 237.85,91.02 238.10,91.42 238.35,90.57 238.60,90.40 238.85,90.16 239.10,89.90 239.35,89.30 239.60,88.98 239.85,87.92 240.10,87.02 240.35,88.14 240.60,86.98 240.85,86.85 241.10,86.27 241.35,86.84 241.60,86.52 241.85,87.06 242.10,86.53 242.35,87.12 242.60,87.64 242.85,87.85 243.10,88.61 243.35,89.68 243.60,89.19 243.85,89.76 244.10,90.33 244.35,90.12 244.60,90.22 244.85,91.35 245.10,91.20 245.35,90.05 245.60,89.90 245.85,90.56 246.10,90.37 246.35,89.69 246.60,89.16 246.85,89.15 247.10,87.96 247.35,88.09 247.60,87.67 247.85,86.40 248.10,86.88 248.35,86.48 248.60,86.14 248.85,86.14 249.10,86.83 249.35,86.94 249.60,87.69 249.85,86.96 250.10,87.92 250.35,89.18 250.60,89.17 250.85,89.32 251.10,89.83 251.35,89.57 251.60,90.04 251.85,91.05 252.10,90.91 252.35,91.39 252.60,90.56 252.85,90.35 253.10,88.88 253.35,89.64 253.60,90.16 253.85,89.04 254.10,88.20 254.35,88.35 254.60,87.75 254.85,87.16 255.10,86.56 255.35,86.59 255.60,86.82 255.85,86.09 256.10,86.80 256.35,87.01 256.60,87.71 256.85,87.83 257.10,87.63 257.35,89.12 257.60,88.92 257.85,89.04 258.10,89.97 258.35,90.09 258.60,91.00 258.85,90.14 259.10,90.36 259.35,90.76 259.60,91.55 259.85,91.05 260.10,89.86 260.35,89.17 260.60,89.37 260.85,88.48 261.10,88.82 261.35,88.15 261.60,87.61 261.85,87.02 262.10,87.55 262.35,86.20 262.60,85.88 262.85,86.93 263.10,87.08 263.35,86.48 263.60,87.19 263.85,88.30 264.10,87.29 264.35,88.04 264.60,88.81 264.85,88.14 265.10,89.48 265.35,90.30 265.60,90.28 265.85,91.07 266.10,91.13 266.35,90.70 266.60,91.09 266.85,90.91 267.10,89.73 267.35,89.77 267.60,89.41 267.85,89.08 268.10,88.62 268.35,87.70 268.60,87.89 268.85,86.61 269.10,87.48 269.35,86.87 269.60,87.16 269.85,86.59 270.10,86.20 270.35,85.88 270.60,87.03 270.85,87.02 271.10,87.56 271.35,88.16 271.60,88.83 271.85,88.76 272.10,90.04 272.35,89.67 272.60,90.11 272.85,90.74 273.10,91.14 273.35,91.45 273.60,90.04 273.85,91.40 274.10,89.93 274.35,90.09 274.60,90.17 274.85,90.11 275.10,88.66 275.35,87.87 275.60,88.57 275.85,87.83 276.10,86.81 276.35,86.78 276.60,85.77 276.85,86.74 277.10,86.18 277.35,87.01 277.60,85.67 277.85,87.16 278.10,88.15 278.35,87.62 278.60,88.08 278.85,87.64 279.10,89.14 279.35,89.46 279.60,89.62 279.85,89.55 280.10,90.58 280.35,90.30 280.60,90.63 280.85,90.99 281.10,90.71 281.35,90.52 281.60,90.63 281.85,89.31 282.10,90.03 282.35,88.41 282.60,88.02 282.85,88.01 283.10,87.86 283.35,87.23 283.60,86.60 283.85,86.25 284.10,86.32 284.35,85.98 284.60,86.75 284.85,86.70 285.10,89.39 285.35,96.06 285.60,126.90 285.85,139.24 286.10,139.57 286.35,139.07 286.60,139.20 286.85,139.32 287.10,138.99 287.35,139.09 287.60,139.77 287.85,139.23 288.10,139.55 288.35,139.01 288.60,138.70 288.85,139.35 289.10,139.22 289.35,139.29 289.60,139.16 289.85,139.10 290.10,138.96 290.35,139.45 290.60,138.90 290.85,139.43 291.10,139.18 291.35,138.99 291.60,139.08 291.85,139.44 292.10,139.39 292.35,139.33 292.60,139.25 292.85,138.99 293.10,139.51 293.35,139.14 293.60,139.11 293.85,139.12 294.10,139.14 294.35,138.91 294.60,139.13 294.85,139.05 295.10,139.12 295.35,138.85 295.60,139.64 295.85,138.96 296.10,139.29 296.35,139.30 296.60,139.44 296.85,139.64 297.10,139.32 297.35,139.38 297.60,139.13 297.85,139.55 298.10,138.93 298.35,139.18 298.60,139.29 298.85,139.39 299.10,139.40 299.35,139.48 299.60,139.35 299.85,139.23 300.10,139.27 300.35,139.54 300.60,139.29 300.85,139.43 301.10,139.20 301.35,138.84 301.60,139.10 301.85,139.30 302.10,139.58 302.35,139.54 302.60,139.60 302.85,139.08 303.10,139.40 303.35,139.22 303.60,139.37 303.85,139.22 304.10,138.94 304.35,139.38 304.60,139.31 304.85,139.41 305.10,139.05 305.35,139.45 305.60,139.48 305.85,139.53 306.10,139.54 306.35,139.13 306.60,138.69 306.85,139.45 307.10,139.03 307.35,139.18 307.60,139.47 307.85,139.29 308.10,139.29 308.35,139.38 308.60,138.82 308.85,139.64 309.10,139.15 309.35,139.16 309.60,139.36 309.85,139.20 310.10,139.05 310.35,139.20 310.60,139.15 310.85,139.09 311.10,139.67 311.35,138.92 311.60,138.75 311.85,139.03 312.10,139.02 312.35,139.54 312.60,139.26 312.85,139.41 313.10,139.36 313.35,139.03 313.60,139.41 313.85,139.26 314.10,139.64 314.35,139.27 314.60,139.22 314.85,139.39 315.10,139.39 315.35,138.83 315.60,139.49 315.85,139.46 316.10,139.41 316.35,138.98 316.60,138.79 316.85,139.16 317.10,139.39 317.35,139.33 317.60,139.01 317.85,139.43 318.10,138.92 318.35,138.93 318.60,139.22 318.85,139.10 319.10,139.08 319.35,138.90 319.60,139.46 319.85,138.98 320.10,139.32 320.35,139.40 320.60,139.21 320.85,139.28 321.10,139.45 321.35,139.58 321.60,139.44 321.85,138.93 322.10,138.82 322.35,139.10 322.60,138.98 322.85,139.35 323.10,139.25 323.35,139.18 323.60,139.47 323.85,139.45 324.10,139.21 324.35,139.30 324.60,139.46 324.85,139.15 325.10,139.29 325.35,139.02 325.60,139.24 325.85,139.30 326.10,139.21 326.35,139.27 326.60,139.38 326.85,139.32 327.10,139.08 327.35,139.10 327.60,138.96 327.85,139.60 328.10,139.32 328.35,139.32 328.60,139.20 328.85,139.33 329.10,139.35 329.35,139.07 329.60,139.20 329.85,139.48 330.10,138.95 330.35,139.02 330.60,139.36 330.85,139.06 331.10,139.39 331.35,138.99 331.60,139.28 331.85,139.41 332.10,139.32 332.35,139.40 332.60,139.19 332.85,139.20 333.10,139.23 333.35,139.35 333.60,139.77 333.85,139.22 334.10,139.64 334.35,139.18 334.60,138.99 334.85,139.18 335.10,139.32 335.35,139.27 335.60,139.26 335.85,139.35 336.10,139.36 336.35,139.43 336.60,138.98 336.85,139.24 337.10,139.03 337.35,139.29 337.60,139.22 337.85,139.27 338.10,139.14 338.35,139.06 338.60,139.18 338.85,139.38 339.10,139.40 339.35,138.88 339.60,139.30 339.85,139.30 340.10,138.92 340.35,139.00 340.60,139.12 340.85,139.32 341.10,138.73 341.35,139.15 341.60,139.12 341.85,139.27 342.10,139.54 342.35,139.52 342.60,139.15 342.85,139.15 343.10,139.29 343.35,139.49 343.60,139.54 343.85,139.31 344.10,139.55 344.35,139.04 344.60,138.99 344.85,138.63 345.10,139.05 345.35,139.36 345.60,139.42 345.85,139.77 346.10,139.36 346.35,139.27 346.60,139.03 346.85,139.10 347.10,139.11" fill="none" stroke="#FF0000" stroke-width="2.4" stroke-linejoin="round" stroke-linecap="butt"/>
<polyline points="436.20,141.33 436.45,141.08 436.70,140.65 436.95,142.02 437.20,141.69 437.45,142.20 437.70,140.56 437.95,140.74 438.20,141.03 438.45,142.10 438.70,141.35 438.95,141.57 439.20,141.40 439.45,141.54 439.70,141.16 439.95,141.66 440.20,140.98 440.45,141.31 440.70,141.60 440.95,141.50 441.20,141.68 441.45,141.00 441.70,141.59 441.95,141.28 442.20,141.66 442.45,142.25 442.70,140.95 442.95,142.02 443.20,141.07 443.45,141.21 443.70,142.35 443.95,141.96 444.20,141.72 444.45,141.89 444.70,142.09 444.95,141.04 445.20,141.57 445.45,141.23 445.70,141.68 445.95,141.28 446.20,141.85 446.45,141.46 446.70,141.13 446.95,141.42 447.20,141.69 447.45,142.03 447.70,141.35 447.95,141.25 448.20,141.58 448.45,141.86 448.70,141.15 448.95,140.09 449.20,141.61 449.45,141.26 449.70,141.24 449.95,142.84 450.20,141.37 450.45,141.83 450.70,140.69 450.95,141.58 451.20,141.87 451.45,141.56 451.70,141.35 451.95,141.75 452.20,141.47 452.45,142.18 452.70,141.57 452.95,141.02 453.20,140.37 453.45,141.06 453.70,141.29 453.95,140.80 454.20,140.89 454.45,140.53 454.70,140.85 454.95,141.51 455.20,141.30 455.45,141.34 455.70,141.28 455.95,141.33 456.20,141.87 456.45,142.59 456.70,141.81 456.95,142.55 457.20,141.41 457.45,141.44 457.70,142.36 457.95,141.07 458.20,140.97 458.45,141.39 458.70,140.53 458.95,140.42 459.20,142.10 459.45,140.88 459.70,141.20 459.95,141.21 460.20,140.93 460.45,141.83 460.70,141.77 460.95,141.89 461.20,141.85 461.45,141.50 461.70,142.23 461.95,142.01 462.20,141.13 462.45,141.48 462.70,141.23 462.95,142.47 463.20,141.87 463.45,141.75 463.70,141.42 463.95,141.76 464.20,140.93 464.45,141.47 464.70,141.43 464.95,141.43 465.20,141.06 465.45,141.70 465.70,140.83 465.95,141.19 466.20,141.36 466.45,141.42 466.70,141.16 466.95,140.89 467.20,140.93 467.45,141.24 467.70,140.96 467.95,141.38 468.20,140.76 468.45,141.46 468.70,142.57 468.95,140.71 469.20,141.38 469.45,142.08 469.70,141.55 469.95,141.92 470.20,140.30 470.45,141.17 470.70,142.30 470.95,141.14 471.20,141.66 471.45,140.40 471.70,142.02 471.95,142.67 472.20,141.41 472.45,141.63 472.70,141.67 472.95,142.61 473.20,141.21 473.45,140.53 473.70,142.48 473.95,140.80 474.20,141.75 474.45,140.16 474.70,141.20 474.95,141.54 475.20,140.84 475.45,141.16 475.70,141.77 475.95,141.06 476.20,141.72 476.45,142.42 476.70,140.33 476.95,141.63 477.20,141.44 477.45,141.44 477.70,134.17 477.95,125.08 478.20,115.99 478.45,115.99 478.70,115.99 478.95,115.99 479.20,114.66 479.45,113.00 479.70,111.33 479.95,109.66 480.20,108.00 480.45,106.33 480.70,104.66 480.95,103.00 481.20,101.33 481.45,99.67 481.70,98.00 481.95,96.33 482.20,95.06 482.45,93.90 482.70,92.73 482.95,91.56 483.20,90.39 483.45,89.22 483.70,88.05 483.95,86.89 484.20,85.72 484.45,84.55 484.70,83.38 484.95,82.21 485.20,81.04 485.45,79.87 485.70,59.55 485.95,39.52 486.20,41.08 486.45,39.25 486.70,43.63 486.95,43.42 487.20,41.80 487.45,42.08 487.70,41.03 487.95,38.97 488.20,42.59 488.45,40.60 488.70,40.47 488.95,44.27 489.20,41.52 489.45,44.18 489.70,39.92 489.95,41.36 490.20,41.52 490.45,43.46 490.70,39.26 490.95,40.17 491.20,35.93 491.45,36.71 491.70,37.20 491.95,32.38 492.20,27.53 492.45,30.15 492.70,30.14 492.95,38.21 493.20,43.84 493.45,48.50 493.70,56.02 493.95,51.30 494.20,46.66 494.45,38.94 494.70,37.74 494.95,41.01 495.20,36.37 495.45,39.40 495.70,37.91 495.95,36.91 496.20,38.39 496.45,34.62 496.70,38.66 496.95,41.37 497.20,36.91 497.45,40.38 497.70,40.52 497.95,45.75 498.20,38.83 498.45,39.50 498.70,39.88 498.95,39.89 499.20,38.94 499.45,42.44 499.70,40.67 499.95,43.25 500.20,42.07 500.45,39.03 500.70,39.77 500.95,42.43 501.20,38.88 501.45,39.39 501.70,40.08 501.95,37.33 502.20,38.87 502.45,41.76 502.70,41.69 502.95,37.21 503.20,43.95 503.45,41.55 503.70,41.61 503.95,42.32 504.20,46.47 504.45,45.59 504.70,45.22 504.95,44.06 505.20,46.72 505.45,47.69 505.70,43.78 505.95,43.63 506.20,45.00 506.45,46.81 506.70,44.99 506.95,45.56 507.20,44.27 507.45,48.10 507.70,45.35 507.95,45.52 508.20,46.92 508.45,44.17 508.70,44.17 508.95,44.64 509.20,42.85 509.45,45.81 509.70,43.00 509.95,41.78 510.20,41.72 510.45,39.94 510.70,43.87 510.95,44.23 511.20,40.87 511.45,40.29 511.70,37.08 511.95,39.62 512.20,42.14 512.45,38.90 512.70,41.71 512.95,42.69 513.20,35.06 513.45,39.13 513.70,38.79 513.95,39.43 514.20,37.52 514.45,40.66 514.70,39.33 514.95,43.77 515.20,44.80 515.45,40.04 515.70,40.31 515.95,42.43 516.20,43.31 516.45,43.63 516.70,44.75 516.95,40.27 517.20,41.43 517.45,41.28 517.70,41.09 517.95,39.43 518.20,39.99 518.45,39.31 518.70,43.30 518.95,40.76 519.20,38.22 519.45,43.65 519.70,43.45 519.95,42.11 520.20,42.50 520.45,43.62 520.70,48.20 520.95,44.48 521.20,47.43 521.45,46.65 521.70,44.04 521.95,45.45 522.20,43.32 522.45,38.95 522.70,43.13 522.95,43.11 523.20,45.93 523.45,45.35 523.70,46.00 523.95,44.87 524.20,45.70 524.45,44.73 524.70,43.73 524.95,44.98 525.20,45.56 525.45,45.27 525.70,41.78 525.95,42.31 526.20,40.37 526.45,40.15 526.70,42.49 526.95,40.46 527.20,44.11 527.45,37.16 527.70,38.95 527.95,41.33 528.20,42.87 528.45,39.88 528.70,43.78 528.95,41.62 529.20,38.65 529.45,40.17 529.70,41.48 529.95,39.15 530.20,43.05 530.45,40.94 530.70,42.65 530.95,43.57 531.20,41.47 531.45,44.41 531.70,39.44 531.95,44.24 532.20,39.85 532.45,45.35 532.70,42.15 532.95,45.32 533.20,45.47 533.45,42.63 533.70,41.58 533.95,45.02 534.20,40.44 534.45,43.93 534.70,42.13 534.95,41.57 535.20,41.15 535.45,45.59 535.70,39.48 535.95,41.49 536.20,43.38 536.45,44.56 536.70,45.87 536.95,45.36 537.20,41.98 537.45,43.69 537.70,45.22 537.95,44.21 538.20,40.50 538.45,44.04 538.70,44.59 538.95,41.17 539.20,42.88 539.45,43.73 539.70,45.01 539.95,46.82 540.20,46.18 540.45,44.98 540.70,44.55 540.95,43.56 541.20,43.25 541.45,43.90 541.70,43.95 541.95,46.23 542.20,48.37 542.45,45.45 542.70,46.29 542.95,45.79 543.20,45.15 543.45,46.96 543.70,46.77 543.95,44.99 544.20,44.64 544.45,46.10 544.70,44.05 544.95,45.40 545.20,46.91 545.45,45.03 545.70,41.73 545.95,46.43 546.20,43.13 546.45,42.80 546.70,42.63 546.95,46.90 547.20,41.79 547.45,45.29 547.70,46.01 547.95,46.02 548.20,44.56 548.45,45.61 548.70,46.07 548.95,43.47 549.20,47.17 549.45,47.80 549.70,44.51 549.95,44.72 550.20,43.97 550.45,47.85 550.70,43.87 550.95,44.90 551.20,42.50 551.45,47.91 551.70,45.18 551.95,46.02 552.20,48.34 552.45,46.69 552.70,43.28 552.95,46.11 553.20,46.51 553.45,43.56 553.70,43.27 553.95,43.21 554.20,46.38 554.45,44.99 554.70,42.94 554.95,45.95 555.20,46.05 555.45,43.12 555.70,41.72 555.95,46.59 556.20,49.16 556.45,47.01 556.70,46.15 556.95,44.49 557.20,43.06 557.45,44.38 557.70,45.33 557.95,43.71 558.20,45.67 558.45,43.95 558.70,44.97 558.95,38.86 559.20,42.19 559.45,45.13 559.70,45.36 559.95,44.28 560.20,46.47 560.45,44.83 560.70,44.86 560.95,41.93 561.20,44.33 561.45,45.01 561.70,46.03 561.95,45.75 562.20,43.75 562.45,44.04 562.70,41.60 562.95,44.83 563.20,41.78 563.45,43.25 563.70,43.75 563.95,47.41 564.20,46.12 564.45,42.44 564.70,41.27 564.95,43.45 565.20,42.46 565.45,44.61 565.70,44.56 565.95,45.11 566.20,42.15 566.45,43.31 566.70,44.38 566.95,44.57 567.20,42.98 567.45,43.42 567.70,45.54 567.95,40.93 568.20,43.60 568.45,44.06 568.70,41.42 568.95,42.26 569.20,44.30 569.45,43.18 569.70,46.12 569.95,45.36 570.20,48.31 570.45,42.00 570.70,47.68 570.95,43.01 571.20,45.77 571.45,46.05 571.70,44.64 571.95,43.82 572.20,43.20 572.45,41.11 572.70,43.69 572.95,42.75 573.20,45.46 573.45,43.09 573.70,44.12 573.95,45.25 574.20,44.60 574.45,44.55 574.70,44.10 574.95,43.74 575.20,45.40 575.45,45.84 575.70,43.15 575.95,47.60 576.20,45.66 576.45,41.72 576.70,49.48 576.95,45.83 577.20,43.34 577.45,47.60 577.70,39.89 577.95,49.33 578.20,42.03 578.45,41.83 578.70,43.00 578.95,45.09 579.20,44.05 579.45,46.34 579.70,43.25 579.95,46.77 580.20,45.23 580.45,42.91 580.70,46.73 580.95,45.35 581.20,44.38 581.45,47.10 581.70,42.53 581.95,44.01 582.20,47.38 582.45,44.69 582.70,46.00 582.95,45.78 583.20,44.43 583.45,45.84 583.70,42.79 583.95,45.81 584.20,42.73 584.45,44.58 584.70,42.93 584.95,45.45 585.20,45.38 585.45,46.54 585.70,43.38 585.95,42.71 586.20,40.55 586.45,42.04 586.70,43.92 586.95,44.75 587.20,43.64 587.45,44.38 587.70,41.66 587.95,42.59 588.20,45.81 588.45,45.53 588.70,41.78 588.95,43.69 589.20,44.66 589.45,42.07 589.70,44.92 589.95,44.71 590.20,45.02 590.45,47.72 590.70,42.56 590.95,46.31 591.20,45.12 591.45,45.42 591.70,42.72 591.95,44.14 592.20,43.97 592.45,47.03 592.70,44.11 592.95,46.61 593.20,43.35 593.45,43.22 593.70,43.89 593.95,40.12 594.20,42.85 594.45,42.71 594.70,43.51 594.95,44.10 595.20,41.97 595.45,41.70 595.70,46.04 595.95,41.74 596.20,42.70 596.45,41.86 596.70,42.74 596.95,45.83 597.20,45.67 597.45,40.20 597.70,43.04 597.95,46.05 598.20,42.82 598.45,44.09 598.70,46.76 598.95,47.54 599.20,46.27 599.45,42.84 599.70,43.40 599.95,43.74 600.20,42.79 600.45,42.23 600.70,47.17 600.95,43.92 601.20,44.90 601.45,45.66 601.70,44.44 601.95,43.69 602.20,43.97 602.45,46.15 602.70,44.41 602.95,39.89 603.20,45.49 603.45,46.67 603.70,43.12 603.95,42.56 604.20,42.82 604.45,45.73 604.70,41.90 604.95,45.16 605.20,45.82 605.45,44.89 605.70,44.00 605.95,42.53 606.20,42.72 606.45,43.91 606.70,42.20 606.95,43.77 607.20,42.31 607.45,46.52 607.70,46.85 607.95,42.60 608.20,46.56 608.45,44.60 608.70,44.26 608.95,44.99 609.20,44.95 609.45,41.61 609.70,48.77 609.95,42.58 610.20,40.00 610.45,44.10 610.70,44.14 610.95,42.75 611.20,40.72 611.45,46.17 611.70,43.82 611.95,44.29 612.20,42.90 612.45,43.59 612.70,42.65 612.95,44.59 613.20,43.70 613.45,44.97 613.70,44.93 613.95,43.95 614.20,43.92 614.45,45.76 614.70,40.74 614.95,43.81 615.20,46.05 615.45,41.50 615.70,44.83 615.95,41.36 616.20,40.05 616.45,37.70 616.70,35.72 616.95,33.75 617.20,34.94 617.45,35.64 617.70,41.45 617.95,41.03 618.20,42.36 618.45,45.03 618.70,45.58 618.95,39.13 619.20,43.70 619.45,39.21 619.70,41.99 619.95,42.79 620.20,42.07 620.45,41.80 620.70,40.83 620.95,42.20 621.20,42.75 621.45,42.71 621.70,40.59 621.95,41.58 622.20,44.90 622.45,44.26 622.70,42.52 622.95,44.27 623.20,43.84 623.45,44.91 623.70,43.67 623.95,42.44 624.20,41.42 624.45,43.23 624.70,39.49 624.95,43.42 625.20,37.50 625.45,40.55 625.70,40.14 625.95,39.68 626.20,38.86 626.45,37.21 626.70,38.46 626.95,38.30 627.20,42.94 627.45,39.62 627.70,43.94 627.95,42.18 628.20,48.14 628.45,43.28 628.70,44.18 628.95,42.33 629.20,43.43 629.45,45.69 629.70,41.91 629.95,42.38 630.20,42.55 630.45,41.78 630.70,41.60 630.95,43.62 631.20,46.03 631.45,46.06 631.70,41.07 631.95,42.22 632.20,43.30 632.45,44.26 632.70,43.40 632.95,43.39 633.20,44.03 633.45,44.67 633.70,39.45 633.95,42.08 634.20,41.64 634.45,40.45 634.70,38.17 634.95,36.26 635.20,37.00 635.45,38.88 635.70,40.17 635.95,42.16 636.20,45.21 636.45,40.81 636.70,42.49 636.95,38.64 637.20,44.50 637.45,43.36 637.70,41.49 637.95,43.52 638.20,45.58 638.45,44.76 638.70,42.83 638.95,42.38 639.20,43.15 639.45,41.14 639.70,41.14 639.95,42.34 640.20,42.89 640.45,43.41 640.70,41.96 640.95,41.31 641.20,42.89 641.45,42.19 641.70,43.62 641.95,45.61 642.20,44.88 642.45,40.12 642.70,38.91 642.95,36.45 643.20,35.67 643.45,34.50 643.70,35.83 643.95,37.48 644.20,40.92 644.45,42.36 644.70,42.97 644.95,45.01 645.20,42.38 645.45,41.39 645.70,44.14 645.95,39.70 646.20,43.83 646.45,43.68 646.70,43.76 646.95,44.63 647.20,42.60 647.45,43.34 647.70,40.37 647.95,42.30 648.20,42.44 648.45,43.84 648.70,46.02 648.95,43.63 649.20,45.03 649.45,41.77 649.70,43.57 649.95,40.50 650.20,42.20 650.45,41.98 650.70,42.50 650.95,41.99 651.20,41.18 651.45,40.73 651.70,40.92 651.95,41.20 652.20,38.99 652.45,43.04 652.70,44.17 652.95,45.43 653.20,45.47 653.45,47.06 653.70,48.65 653.95,50.24 654.20,51.83 654.45,53.42 654.70,55.01 654.95,56.60 655.20,58.19 655.45,59.78 655.70,61.37 655.95,62.96 656.20,82.82 656.45,107.25 656.70,131.67 656.95,141.44 657.20,142.36 657.45,140.69 657.70,141.40 657.95,141.25 658.20,140.27 658.45,139.85 658.70,142.01 658.95,140.77 659.20,141.05 659.45,141.19 659.70,141.14 659.95,141.46 660.20,140.43 660.45,141.05 660.70,141.22 660.95,140.65 661.20,140.87 661.45,141.15 661.70,141.23 661.95,140.32 662.20,141.12 662.45,141.50 662.70,141.99 662.95,141.66 663.20,142.11 663.45,141.37 663.70,141.28 663.95,142.75 664.20,141.43 664.45,141.03 664.70,141.33 664.95,142.05 665.20,140.63 665.45,141.88 665.70,142.22 665.95,142.13 666.20,141.45 666.45,140.82 666.70,140.70 666.95,141.31 667.20,142.20 667.45,141.86 667.70,142.01 667.95,141.55 668.20,142.57 668.45,141.37 668.70,141.03 668.95,141.54 669.20,141.15 669.45,142.04 669.70,142.37 669.95,141.85 670.20,140.71 670.45,140.79 670.70,141.73 670.95,140.68 671.20,141.65 671.45,140.48 671.70,141.13 671.95,141.73 672.20,140.94 672.45,141.93 672.70,142.04 672.95,142.37 673.20,141.28 673.45,141.48 673.70,141.49 673.95,141.70 674.20,140.53 674.45,141.71 674.70,141.90 674.95,140.65 675.20,140.54 675.45,141.23 675.70,142.55 675.95,141.82 676.20,141.05 676.45,141.43 676.70,140.45 676.95,142.31 677.20,141.01 677.45,141.84 677.70,140.60 677.95,141.49 678.20,140.79 678.45,141.85 678.70,142.34 678.95,142.15 679.20,141.83 679.45,142.09 679.70,140.68 679.95,140.59 680.20,141.27 680.45,142.10 680.70,141.52 680.95,141.88 681.20,140.52 681.45,141.24 681.70,141.13 681.95,141.70 682.20,142.72 682.45,141.93 682.70,142.15 682.95,141.21 683.20,141.38 683.45,141.95 683.70,141.69 683.95,140.45 684.20,142.05 684.45,142.03 684.70,141.59 684.95,141.89 685.20,141.72 685.45,141.10 685.70,140.34 685.95,142.57 686.20,141.45 686.45,141.42 686.70,141.50 686.95,141.56 687.20,141.66 687.45,140.80 687.70,141.74 687.95,141.52 688.20,141.44 688.45,141.37 688.70,141.55 688.95,140.81 689.20,141.45 689.45,141.33 689.70,141.48 689.95,142.08 690.20,141.97 690.45,142.11 690.70,141.32 690.95,141.90 691.20,142.12 691.45,141.29 691.70,141.11 691.95,142.56 692.20,140.37 692.45,141.42 692.70,141.51 692.95,140.76 693.20,141.40 693.45,141.83 693.70,140.05 693.95,142.13 694.20,141.50 694.45,140.90 694.70,142.12 694.95,141.51 695.20,141.20 695.45,139.91 695.70,142.01 695.95,141.47 696.20,141.02 696.45,141.39 696.70,142.21 696.95,141.18 697.20,141.37 697.45,141.16 697.70,140.72 697.95,140.80 698.20,141.18 698.45,141.24 698.70,142.14 698.95,141.53 699.20,141.30 699.45,141.70 699.70,141.38 699.95,141.97 700.20,140.46 700.45,140.06 700.70,141.66 700.95,141.15 701.20,141.55 701.45,140.58 701.70,141.10 701.95,141.32 702.20,141.50 702.45,141.27 702.70,141.98 702.95,140.90 703.20,141.77 703.45,140.97 703.70,141.22 703.95,140.59 704.20,141.29 704.45,140.62 704.70,141.85 704.95,140.86 705.20,141.39 705.45,141.11 705.70,141.18 705.95,140.62 706.20,142.49 706.45,140.99 706.70,142.14 706.95,140.41 707.20,142.42 707.45,141.79 707.70,142.21 707.95,140.09 708.20,141.95 708.45,141.05 708.70,141.45 708.95,142.24 709.20,141.30 709.45,140.66 709.70,141.19 709.95,140.46 710.20,141.28 710.45,141.04 710.70,141.28 710.95,140.80 711.20,139.80 711.45,140.77 711.70,140.87 711.95,141.38 712.20,141.45 712.45,140.03 712.70,141.66 712.95,141.53 713.20,141.00 713.45,141.20 713.70,139.67 713.95,142.41 714.20,140.67 714.45,140.43 714.70,141.59 714.95,141.28 715.20,140.58 715.45,139.81 715.70,141.43 715.95,141.83 716.20,140.20 716.45,139.84 716.70,141.01 716.95,142.20 717.20,139.86 717.45,140.90 717.70,140.05 717.95,140.78 718.20,140.98 718.45,141.02 718.70,139.79 718.95,139.80 719.20,142.07 719.45,141.29 719.70,139.56 719.95,140.91 720.20,141.53 720.45,140.65 720.70,140.72 720.95,140.70 721.20,140.93 721.45,140.82 721.70,140.90 721.95,140.39 722.20,141.11 722.45,140.76 722.70,140.66 722.95,139.73 723.20,140.31 723.45,140.61 723.70,140.19 723.95,140.26 724.20,139.82 724.45,140.18 724.70,139.35 724.95,139.63 725.20,140.50 725.45,140.73 725.70,139.89 725.95,140.12 726.20,140.50 726.45,141.37 726.70,141.58 726.95,140.19 727.20,139.91 727.45,139.23 727.70,139.08 727.95,137.93 728.20,138.53" fill="none" stroke="#4472C4" stroke-width="2.6" stroke-linejoin="round" stroke-linecap="butt"/>
<polyline points="436.20,142.64 436.45,142.64 436.70,142.86 436.95,142.82 437.20,143.09 437.45,142.88 437.70,143.04 437.95,142.64 438.20,142.70 438.45,142.55 438.70,142.65 438.95,142.83 439.20,142.65 439.45,142.79 439.70,142.60 439.95,142.66 440.20,142.89 440.45,142.71 440.70,142.70 440.95,142.77 441.20,142.55 441.45,142.40 441.70,142.78 441.95,142.78 442.20,143.12 442.45,142.74 442.70,142.79 442.95,143.11 443.20,142.66 443.45,142.61 443.70,142.85 443.95,142.78 444.20,142.89 444.45,142.58 444.70,142.99 444.95,142.77 445.20,142.36 445.45,142.71 445.70,142.63 445.95,142.74 446.20,142.93 446.45,142.72 446.70,142.64 446.95,142.90 447.20,142.65 447.45,142.49 447.70,142.52 447.95,143.00 448.20,142.89 448.45,143.01 448.70,142.52 448.95,142.60 449.20,142.59 449.45,142.87 449.70,142.93 449.95,142.70 450.20,142.70 450.45,142.87 450.70,142.69 450.95,142.60 451.20,142.67 451.45,142.90 451.70,143.10 451.95,142.76 452.20,142.68 452.45,142.76 452.70,142.79 452.95,142.84 453.20,142.58 453.45,142.72 453.70,142.69 453.95,142.89 454.20,142.83 454.45,142.68 454.70,142.90 454.95,142.94 455.20,142.77 455.45,142.50 455.70,142.68 455.95,142.45 456.20,142.74 456.45,142.77 456.70,142.97 456.95,142.82 457.20,142.45 457.45,142.66 457.70,142.58 457.95,142.59 458.20,142.72 458.45,142.75 458.70,142.69 458.95,142.59 459.20,142.63 459.45,142.63 459.70,142.69 459.95,142.85 460.20,142.76 460.45,142.89 460.70,142.53 460.95,143.10 461.20,142.75 461.45,142.28 461.70,142.78 461.95,142.92 462.20,142.72 462.45,142.48 462.70,142.74 462.95,142.60 463.20,142.70 463.45,142.78 463.70,142.14 463.95,142.70 464.20,142.81 464.45,142.80 464.70,142.65 464.95,142.64 465.20,142.57 465.45,142.69 465.70,142.97 465.95,142.62 466.20,142.77 466.45,142.77 466.70,142.98 466.95,142.82 467.20,142.85 467.45,142.72 467.70,142.98 467.95,142.71 468.20,142.69 468.45,142.92 468.70,142.83 468.95,142.87 469.20,142.55 469.45,143.17 469.70,142.78 469.95,143.02 470.20,142.79 470.45,142.56 470.70,142.83 470.95,142.69 471.20,142.87 471.45,142.36 471.70,142.55 471.95,142.51 472.20,142.96 472.45,142.91 472.70,142.52 472.95,142.75 473.20,142.76 473.45,142.65 473.70,142.94 473.95,142.57 474.20,142.71 474.45,142.63 474.70,142.84 474.95,142.62 475.20,142.84 475.45,142.54 475.70,142.51 475.95,142.55 476.20,142.62 476.45,142.60 476.70,143.21 476.95,142.56 477.20,133.80 477.45,121.10 477.70,114.67 477.95,116.76 478.20,114.57 478.45,111.64 478.70,109.66 478.95,113.78 479.20,113.26 479.45,106.79 479.70,110.55 479.95,102.77 480.20,105.85 480.45,106.55 480.70,101.15 480.95,98.27 481.20,103.76 481.45,95.90 481.70,98.58 481.95,93.39 482.20,96.99 482.45,99.35 482.70,94.57 482.95,93.39 483.20,90.59 483.45,91.15 483.70,93.15 483.95,94.93 484.20,95.30 484.45,94.56 484.70,95.48 484.95,94.01 485.20,98.71 485.45,92.52 485.70,92.73 485.95,86.82 486.20,90.62 486.45,93.21 486.70,90.81 486.95,94.61 487.20,93.13 487.45,95.78 487.70,88.46 487.95,90.18 488.20,93.93 488.45,91.38 488.70,89.07 488.95,89.94 489.20,90.08 489.45,92.67 489.70,92.07 489.95,90.36 490.20,89.31 490.45,91.72 490.70,92.14 490.95,89.07 491.20,91.92 491.45,89.21 491.70,90.37 491.95,89.52 492.20,88.37 492.45,89.83 492.70,88.32 492.95,86.32 493.20,82.10 493.45,77.79 493.70,76.96 493.95,80.32 494.20,82.92 494.45,88.29 494.70,90.70 494.95,89.62 495.20,90.99 495.45,91.13 495.70,92.49 495.95,89.74 496.20,92.57 496.45,90.43 496.70,93.09 496.95,89.68 497.20,92.60 497.45,90.07 497.70,93.41 497.95,91.87 498.20,89.69 498.45,92.41 498.70,91.25 498.95,92.01 499.20,94.53 499.45,90.99 499.70,90.84 499.95,92.96 500.20,90.68 500.45,92.55 500.70,92.84 500.95,91.46 501.20,92.41 501.45,88.36 501.70,93.61 501.95,90.48 502.20,90.15 502.45,94.20 502.70,93.87 502.95,90.74 503.20,92.17 503.45,91.00 503.70,89.97 503.95,92.03 504.20,92.98 504.45,95.26 504.70,91.26 504.95,92.81 505.20,91.12 505.45,91.24 505.70,93.45 505.95,89.21 506.20,90.09 506.45,90.42 506.70,93.19 506.95,92.14 507.20,92.33 507.45,92.16 507.70,93.13 507.95,91.01 508.20,90.60 508.45,89.63 508.70,89.17 508.95,87.92 509.20,88.53 509.45,91.21 509.70,91.10 509.95,91.52 510.20,90.32 510.45,92.06 510.70,91.99 510.95,92.56 511.20,90.75 511.45,92.27 511.70,92.49 511.95,92.68 512.20,90.92 512.45,92.41 512.70,93.97 512.95,90.84 513.20,92.65 513.45,91.21 513.70,91.20 513.95,90.07 514.20,90.29 514.45,92.50 514.70,91.95 514.95,93.49 515.20,89.45 515.45,91.13 515.70,89.84 515.95,92.18 516.20,94.54 516.45,89.67 516.70,91.63 516.95,91.58 517.20,91.69 517.45,90.89 517.70,91.05 517.95,93.95 518.20,90.30 518.45,92.51 518.70,92.43 518.95,89.45 519.20,90.55 519.45,92.27 519.70,94.34 519.95,91.60 520.20,91.09 520.45,91.94 520.70,93.53 520.95,92.91 521.20,93.55 521.45,91.55 521.70,90.73 521.95,90.46 522.20,92.86 522.45,91.54 522.70,91.11 522.95,92.57 523.20,92.08 523.45,88.99 523.70,91.61 523.95,90.69 524.20,92.49 524.45,91.84 524.70,94.24 524.95,91.94 525.20,90.29 525.45,89.06 525.70,90.29 525.95,90.99 526.20,91.86 526.45,92.75 526.70,92.16 526.95,91.11 527.20,93.02 527.45,90.68 527.70,93.30 527.95,94.39 528.20,93.35 528.45,94.24 528.70,93.85 528.95,90.44 529.20,92.26 529.45,91.69 529.70,90.42 529.95,90.28 530.20,92.69 530.45,90.20 530.70,91.49 530.95,92.01 531.20,91.42 531.45,93.97 531.70,93.10 531.95,92.18 532.20,91.21 532.45,92.55 532.70,92.22 532.95,90.73 533.20,90.13 533.45,91.02 533.70,90.34 533.95,92.62 534.20,92.49 534.45,91.65 534.70,92.50 534.95,92.78 535.20,89.84 535.45,92.37 535.70,93.42 535.95,91.44 536.20,89.61 536.45,92.01 536.70,90.44 536.95,92.72 537.20,92.80 537.45,93.08 537.70,92.34 537.95,89.64 538.20,93.73 538.45,89.92 538.70,93.53 538.95,92.48 539.20,91.03 539.45,91.31 539.70,91.79 539.95,94.43 540.20,91.69 540.45,93.58 540.70,88.69 540.95,92.49 541.20,91.95 541.45,93.77 541.70,92.87 541.95,93.98 542.20,90.88 542.45,92.58 542.70,91.46 542.95,93.17 543.20,92.92 543.45,90.49 543.70,93.57 543.95,94.71 544.20,91.71 544.45,93.82 544.70,92.87 544.95,91.03 545.20,93.39 545.45,91.08 545.70,93.21 545.95,90.26 546.20,90.49 546.45,92.94 546.70,92.60 546.95,93.44 547.20,92.04 547.45,90.75 547.70,94.29 547.95,91.08 548.20,94.14 548.45,93.51 548.70,94.78 548.95,89.48 549.20,92.27 549.45,92.02 549.70,93.28 549.95,90.91 550.20,95.23 550.45,92.33 550.70,89.36 550.95,92.89 551.20,92.34 551.45,91.45 551.70,93.47 551.95,92.33 552.20,91.05 552.45,92.10 552.70,91.86 552.95,92.84 553.20,91.93 553.45,92.29 553.70,90.38 553.95,91.38 554.20,92.70 554.45,95.70 554.70,91.39 554.95,91.33 555.20,93.61 555.45,95.09 555.70,93.92 555.95,91.10 556.20,93.82 556.45,92.99 556.70,92.06 556.95,90.70 557.20,92.39 557.45,92.50 557.70,93.11 557.95,90.14 558.20,90.91 558.45,92.49 558.70,94.27 558.95,93.44 559.20,91.57 559.45,93.35 559.70,91.15 559.95,91.87 560.20,91.97 560.45,91.47 560.70,91.68 560.95,93.53 561.20,92.81 561.45,89.17 561.70,94.01 561.95,93.01 562.20,90.91 562.45,92.58 562.70,93.47 562.95,94.17 563.20,91.63 563.45,90.97 563.70,90.46 563.95,92.29 564.20,90.94 564.45,93.77 564.70,92.14 564.95,93.29 565.20,92.13 565.45,91.34 565.70,90.91 565.95,93.71 566.20,90.64 566.45,93.01 566.70,93.76 566.95,92.60 567.20,94.36 567.45,92.36 567.70,91.97 567.95,92.64 568.20,91.63 568.45,92.79 568.70,92.36 568.95,94.33 569.20,92.31 569.45,93.52 569.70,92.98 569.95,92.49 570.20,92.10 570.45,94.61 570.70,94.50 570.95,92.78 571.20,91.72 571.45,91.87 571.70,91.15 571.95,90.59 572.20,91.69 572.45,92.39 572.70,93.77 572.95,93.65 573.20,93.00 573.45,92.00 573.70,92.06 573.95,92.36 574.20,92.57 574.45,91.50 574.70,92.08 574.95,91.96 575.20,91.94 575.45,93.11 575.70,93.77 575.95,91.69 576.20,91.80 576.45,92.66 576.70,92.93 576.95,89.26 577.20,93.40 577.45,92.66 577.70,92.00 577.95,93.94 578.20,92.20 578.45,89.91 578.70,91.09 578.95,91.50 579.20,91.56 579.45,92.21 579.70,91.06 579.95,92.58 580.20,92.94 580.45,92.23 580.70,91.13 580.95,91.91 581.20,89.81 581.45,89.79 581.70,85.51 581.95,83.57 582.20,84.73 582.45,87.56 582.70,90.45 582.95,91.55 583.20,93.71 583.45,91.38 583.70,93.08 583.95,91.05 584.20,90.51 584.45,95.13 584.70,91.97 584.95,93.32 585.20,94.29 585.45,93.21 585.70,92.66 585.95,90.96 586.20,94.44 586.45,90.93 586.70,89.61 586.95,91.55 587.20,91.62 587.45,92.38 587.70,93.97 587.95,91.64 588.20,91.84 588.45,91.37 588.70,88.86 588.95,91.37 589.20,91.78 589.45,90.24 589.70,94.20 589.95,93.92 590.20,92.88 590.45,93.26 590.70,91.42 590.95,92.80 591.20,89.99 591.45,90.29 591.70,91.31 591.95,92.89 592.20,91.52 592.45,91.26 592.70,93.82 592.95,91.89 593.20,91.40 593.45,92.07 593.70,90.22 593.95,90.71 594.20,93.49 594.45,92.19 594.70,93.50 594.95,91.57 595.20,93.55 595.45,91.11 595.70,91.84 595.95,91.04 596.20,92.56 596.45,94.35 596.70,89.96 596.95,92.60 597.20,90.49 597.45,91.78 597.70,91.45 597.95,89.87 598.20,91.90 598.45,90.46 598.70,94.39 598.95,91.18 599.20,92.69 599.45,92.55 599.70,92.35 599.95,91.89 600.20,90.11 600.45,94.89 600.70,92.31 600.95,93.35 601.20,90.78 601.45,92.95 601.70,91.75 601.95,92.92 602.20,91.47 602.45,91.00 602.70,92.92 602.95,92.32 603.20,94.32 603.45,91.97 603.70,91.22 603.95,93.15 604.20,90.86 604.45,95.22 604.70,94.92 604.95,94.29 605.20,93.06 605.45,92.38 605.70,92.51 605.95,92.50 606.20,91.42 606.45,93.05 606.70,94.13 606.95,94.11 607.20,89.53 607.45,95.62 607.70,92.66 607.95,89.13 608.20,87.84 608.45,86.21 608.70,83.11 608.95,80.47 609.20,81.80 609.45,85.12 609.70,86.65 609.95,89.57 610.20,90.93 610.45,90.54 610.70,92.90 610.95,94.41 611.20,91.90 611.45,90.02 611.70,91.51 611.95,92.13 612.20,89.17 612.45,93.86 612.70,91.22 612.95,93.23 613.20,92.38 613.45,92.33 613.70,90.39 613.95,93.73 614.20,93.19 614.45,94.63 614.70,91.80 614.95,93.09 615.20,91.89 615.45,93.93 615.70,92.96 615.95,91.05 616.20,92.71 616.45,91.11 616.70,88.67 616.95,86.63 617.20,84.09 617.45,81.94 617.70,84.70 617.95,86.78 618.20,92.47 618.45,94.74 618.70,95.41 618.95,93.69 619.20,91.07 619.45,91.72 619.70,92.54 619.95,92.32 620.20,91.46 620.45,92.91 620.70,91.96 620.95,92.31 621.20,95.49 621.45,93.03 621.70,90.66 621.95,93.05 622.20,92.71 622.45,93.34 622.70,93.18 622.95,90.98 623.20,92.88 623.45,93.91 623.70,96.76 623.95,93.30 624.20,95.21 624.45,95.01 624.70,91.44 624.95,91.56 625.20,95.14 625.45,91.37 625.70,90.90 625.95,89.48 626.20,85.71 626.45,83.76 626.70,83.06 626.95,86.26 627.20,89.16 627.45,89.92 627.70,94.37 627.95,94.12 628.20,93.85 628.45,92.29 628.70,93.02 628.95,91.38 629.20,93.53 629.45,94.32 629.70,93.25 629.95,92.51 630.20,93.84 630.45,92.19 630.70,90.10 630.95,93.37 631.20,92.52 631.45,90.74 631.70,93.47 631.95,93.75 632.20,94.08 632.45,92.05 632.70,91.90 632.95,92.80 633.20,92.55 633.45,90.87 633.70,91.43 633.95,94.52 634.20,91.20 634.45,89.32 634.70,87.31 634.95,85.83 635.20,87.07 635.45,88.97 635.70,92.18 635.95,92.31 636.20,93.45 636.45,92.01 636.70,94.05 636.95,93.24 637.20,93.99 637.45,94.11 637.70,91.70 637.95,93.29 638.20,92.06 638.45,94.19 638.70,92.54 638.95,94.97 639.20,93.33 639.45,93.36 639.70,91.89 639.95,92.44 640.20,92.92 640.45,91.55 640.70,92.43 640.95,91.96 641.20,91.65 641.45,92.79 641.70,93.10 641.95,92.26 642.20,93.27 642.45,91.69 642.70,88.54 642.95,86.51 643.20,84.78 643.45,82.29 643.70,81.57 643.95,84.15 644.20,85.88 644.45,89.54 644.70,91.97 644.95,91.72 645.20,93.38 645.45,92.95 645.70,90.40 645.95,90.70 646.20,91.88 646.45,92.37 646.70,94.06 646.95,91.98 647.20,92.66 647.45,92.44 647.70,93.45 647.95,92.76 648.20,93.00 648.45,92.32 648.70,90.81 648.95,92.26 649.20,95.01 649.45,94.08 649.70,94.91 649.95,93.84 650.20,92.00 650.45,92.22 650.70,93.58 650.95,92.40 651.20,93.80 651.45,94.70 651.70,94.68 651.95,93.94 652.20,90.84 652.45,94.60 652.70,91.09 652.95,90.97 653.20,93.03 653.45,92.85 653.70,93.62 653.95,92.82 654.20,91.89 654.45,92.78 654.70,91.44 654.95,91.18 655.20,92.57 655.45,92.90 655.70,93.73 655.95,93.48 656.20,94.18 656.45,114.40 656.70,134.63 656.95,142.71 657.20,142.93 657.45,142.65 657.70,142.69 657.95,142.88 658.20,142.33 658.45,142.90 658.70,142.88 658.95,142.67 659.20,143.08 659.45,142.87 659.70,143.00 659.95,142.90 660.20,142.75 660.45,142.67 660.70,142.52 660.95,142.58 661.20,142.51 661.45,142.62 661.70,142.81 661.95,142.52 662.20,142.81 662.45,142.84 662.70,142.45 662.95,142.58 663.20,142.68 663.45,142.59 663.70,142.57 663.95,142.97 664.20,142.74 664.45,142.94 664.70,142.70 664.95,142.85 665.20,142.48 665.45,142.63 665.70,142.87 665.95,142.73 666.20,142.94 666.45,142.72 666.70,142.63 666.95,142.68 667.20,143.08 667.45,142.79 667.70,142.63 667.95,142.67 668.20,142.51 668.45,142.96 668.70,142.63 668.95,142.84 669.20,142.69 669.45,142.65 669.70,142.60 669.95,142.83 670.20,142.69 670.45,142.94 670.70,142.98 670.95,142.62 671.20,142.73 671.45,143.02 671.70,142.88 671.95,142.72 672.20,142.44 672.45,142.54 672.70,142.58 672.95,143.05 673.20,142.74 673.45,142.64 673.70,142.65 673.95,142.65 674.20,142.77 674.45,142.41 674.70,142.46 674.95,142.74 675.20,142.90 675.45,142.35 675.70,142.83 675.95,142.51 676.20,142.38 676.45,142.90 676.70,142.67 676.95,142.79 677.20,142.63 677.45,142.67 677.70,142.37 677.95,142.62 678.20,142.73 678.45,142.52 678.70,142.77 678.95,142.79 679.20,142.32 679.45,142.87 679.70,142.81 679.95,142.72 680.20,142.92 680.45,143.11 680.70,142.53 680.95,142.87 681.20,142.82 681.45,142.79 681.70,142.90 681.95,142.92 682.20,142.70 682.45,142.29 682.70,142.59 682.95,142.59 683.20,143.00 683.45,142.73 683.70,142.94 683.95,142.59 684.20,142.77 684.45,142.72 684.70,142.74 684.95,142.83 685.20,143.00 685.45,142.62 685.70,142.98 685.95,142.94 686.20,142.78 686.45,142.85 686.70,142.68 686.95,142.54 687.20,142.68 687.45,142.69 687.70,142.72 687.95,142.57 688.20,143.06 688.45,142.66 688.70,142.89 688.95,142.95 689.20,142.72 689.45,142.80 689.70,142.62 689.95,142.53 690.20,143.15 690.45,142.74 690.70,142.37 690.95,142.57 691.20,142.46 691.45,142.71 691.70,142.99 691.95,142.93 692.20,142.60 692.45,142.55 692.70,142.86 692.95,142.77 693.20,142.68 693.45,143.04 693.70,142.79 693.95,142.43 694.20,142.33 694.45,142.75 694.70,142.39 694.95,142.82 695.20,142.87 695.45,143.13 695.70,142.55 695.95,142.79 696.20,142.30 696.45,142.67 696.70,142.69 696.95,143.05 697.20,142.45 697.45,142.79 697.70,142.75 697.95,143.13 698.20,142.56 698.45,142.55 698.70,142.84 698.95,142.71 699.20,142.65 699.45,142.55 699.70,142.71 699.95,142.41 700.20,142.77 700.45,142.84 700.70,142.81 700.95,143.19 701.20,142.87 701.45,142.54 701.70,142.68 701.95,142.87 702.20,142.66 702.45,143.09 702.70,142.78 702.95,142.63 703.20,142.60 703.45,142.87 703.70,142.56 703.95,142.38 704.20,142.80 704.45,142.59 704.70,143.01 704.95,143.08 705.20,142.61 705.45,142.72 705.70,142.69 705.95,142.83 706.20,142.78 706.45,142.58 706.70,142.41 706.95,142.76 707.20,143.02 707.45,142.49 707.70,142.61 707.95,142.60 708.20,142.69 708.45,142.30 708.70,142.71 708.95,142.63 709.20,143.06 709.45,142.83 709.70,142.85 709.95,142.73 710.20,142.66 710.45,142.86 710.70,142.41 710.95,142.92 711.20,142.81 711.45,142.68 711.70,142.95 711.95,142.62 712.20,142.61 712.45,142.78 712.70,142.38 712.95,142.71 713.20,142.67 713.45,142.90 713.70,143.03 713.95,142.84 714.20,142.78 714.45,142.81 714.70,142.58 714.95,143.16 715.20,142.93 715.45,143.06 715.70,142.48 715.95,142.83 716.20,142.82 716.45,142.92 716.70,142.56 716.95,142.80 717.20,142.68 717.45,143.09 717.70,142.51 717.95,142.65 718.20,142.62 718.45,142.50 718.70,142.76 718.95,142.75 719.20,142.59 719.45,142.65 719.70,142.77 719.95,142.72 720.20,142.82 720.45,142.59 720.70,142.55 720.95,142.72 721.20,142.38 721.45,143.00 721.70,142.77 721.95,142.41 722.20,142.80 722.45,143.01 722.70,142.47 722.95,142.62 723.20,142.94 723.45,142.58 723.70,142.91 723.95,142.97 724.20,142.75 724.45,142.81 724.70,142.92 724.95,142.79 725.20,142.91 725.45,142.71 725.70,142.73 725.95,142.59 726.20,142.81 726.45,142.97 726.70,142.96 726.95,142.77 727.20,142.44 727.45,142.57 727.70,142.84 727.95,142.55 728.20,142.93" fill="none" stroke="#FF0000" stroke-width="2.4" stroke-linejoin="round" stroke-linecap="butt"/>
<polyline points="56.60,361.47 56.85,362.03 57.10,361.57 57.35,361.63 57.60,361.99 57.85,361.75 58.10,362.31 58.35,361.91 58.60,361.44 58.85,360.23 59.10,361.60 59.35,361.84 59.60,362.29 59.85,361.45 60.10,362.55 60.35,362.20 60.60,361.74 60.85,362.36 61.10,361.26 61.35,361.44 61.60,362.11 61.85,362.10 62.10,362.41 62.35,362.44 62.60,361.70 62.85,361.63 63.10,361.74 63.35,361.77 63.60,362.11 63.85,361.74 64.10,362.47 64.35,361.88 64.60,361.29 64.85,361.35 65.10,362.07 65.35,362.01 65.60,361.33 65.85,361.16 66.10,362.48 66.35,362.05 66.60,361.79 66.85,361.39 67.10,362.22 67.35,361.62 67.60,362.00 67.85,360.92 68.10,361.71 68.35,361.93 68.60,362.01 68.85,361.45 69.10,361.61 69.35,362.32 69.60,361.79 69.85,362.42 70.10,362.18 70.35,362.40 70.60,362.41 70.85,362.16 71.10,362.27 71.35,361.67 71.60,361.56 71.85,361.98 72.10,362.33 72.35,361.56 72.60,362.69 72.85,362.66 73.10,361.59 73.35,361.62 73.60,361.49 73.85,361.97 74.10,362.39 74.35,362.08 74.60,361.65 74.85,362.19 75.10,362.16 75.35,362.44 75.60,362.35 75.85,361.54 76.10,361.70 76.35,362.35 76.60,362.31 76.85,362.11 77.10,361.66 77.35,362.35 77.60,361.95 77.85,362.74 78.10,362.39 78.35,361.71 78.60,361.52 78.85,362.34 79.10,362.19 79.35,361.56 79.60,362.04 79.85,362.10 80.10,361.67 80.35,361.80 80.60,361.43 80.85,361.56 81.10,362.11 81.35,361.93 81.60,361.90 81.85,362.42 82.10,362.27 82.35,361.49 82.60,362.52 82.85,361.48 83.10,361.76 83.35,361.93 83.60,361.66 83.85,361.69 84.10,361.39 84.35,362.04 84.60,361.97 84.85,361.98 85.10,361.86 85.35,361.86 85.60,361.86 85.85,361.86 86.10,360.39 86.35,356.72 86.60,353.05 86.85,349.38 87.10,345.71 87.35,342.04 87.60,338.37 87.85,331.78 88.10,323.24 88.35,314.69 88.60,308.56 88.85,306.03 89.10,303.50 89.35,300.97 89.60,299.71 89.85,298.78 90.10,297.85 90.35,296.91 90.60,295.98 90.85,295.04 91.10,294.11 91.35,293.18 91.60,293.24 91.85,293.56 92.10,293.88 92.35,294.20 92.60,294.52 92.85,294.84 93.10,295.16 93.35,295.48 93.60,294.84 93.85,293.96 94.10,293.08 94.35,292.20 94.60,291.32 94.85,290.36 95.10,289.07 95.35,287.78 95.60,286.48 95.85,285.19 96.10,283.89 96.35,282.60 96.60,281.31 96.85,280.01 97.10,278.72 97.35,277.91 97.60,279.02 97.85,280.14 98.10,278.54 98.35,280.83 98.60,284.76 98.85,284.36 99.10,285.51 99.35,284.61 99.60,284.46 99.85,280.93 100.10,288.12 100.35,283.22 100.60,284.40 100.85,286.67 101.10,286.17 101.35,287.38 101.60,287.17 101.85,286.33 102.10,291.56 102.35,287.45 102.60,291.10 102.85,288.42 103.10,290.72 103.35,289.50 103.60,290.67 103.85,289.59 104.10,291.03 104.35,292.09 104.60,288.88 104.85,288.11 105.10,284.90 105.35,291.14 105.60,287.07 105.85,283.91 106.10,286.98 106.35,284.33 106.60,279.54 106.85,280.27 107.10,284.04 107.35,280.13 107.60,280.93 107.85,282.27 108.10,283.77 108.35,284.92 108.60,287.74 108.85,287.95 109.10,286.47 109.35,288.02 109.60,285.41 109.85,289.43 110.10,293.14 110.35,289.64 110.60,288.64 110.85,288.55 111.10,289.24 111.35,290.98 111.60,287.22 111.85,291.28 112.10,289.23 112.35,291.31 112.60,293.23 112.85,288.99 113.10,296.00 113.35,293.24 113.60,291.00 113.85,292.24 114.10,290.07 114.35,291.18 114.60,291.36 114.85,286.33 115.10,289.93 115.35,289.28 115.60,290.35 115.85,289.26 116.10,286.39 116.35,286.15 116.60,286.84 116.85,287.90 117.10,285.49 117.35,289.75 117.60,287.64 117.85,287.85 118.10,289.32 118.35,288.08 118.60,290.04 118.85,290.82 119.10,286.87 119.35,289.26 119.60,289.00 119.85,291.50 120.10,290.39 120.35,291.11 120.60,290.68 120.85,288.91 121.10,293.53 121.35,292.71 121.60,293.19 121.85,299.05 122.10,295.20 122.35,292.53 122.60,291.21 122.85,293.04 123.10,289.79 123.35,289.23 123.60,291.83 123.85,288.29 124.10,287.33 124.35,289.13 124.60,291.18 124.85,286.47 125.10,288.81 125.35,288.69 125.60,287.35 125.85,288.01 126.10,284.79 126.35,284.93 126.60,283.88 126.85,284.83 127.10,287.21 127.35,286.30 127.60,284.87 127.85,287.63 128.10,282.56 128.35,288.83 128.60,290.29 128.85,288.18 129.10,289.77 129.35,291.96 129.60,293.09 129.85,292.62 130.10,292.43 130.35,292.92 130.60,294.96 130.85,293.73 131.10,292.92 131.35,292.86 131.60,299.26 131.85,295.14 132.10,294.60 132.35,293.29 132.60,292.20 132.85,290.53 133.10,290.66 133.35,291.53 133.60,290.85 133.85,287.40 134.10,291.06 134.35,289.03 134.60,286.40 134.85,288.10 135.10,291.85 135.35,287.36 135.60,288.47 135.85,287.92 136.10,285.99 136.35,287.26 136.60,288.96 136.85,287.55 137.10,289.05 137.35,290.41 137.60,290.91 137.85,291.82 138.10,293.63 138.35,294.51 138.60,294.19 138.85,296.19 139.10,296.80 139.35,292.20 139.60,294.50 139.85,293.60 140.10,293.17 140.35,292.24 140.60,291.61 140.85,290.93 141.10,291.87 141.35,288.33 141.60,290.63 141.85,287.16 142.10,291.79 142.35,289.83 142.60,285.80 142.85,287.30 143.10,287.75 143.35,285.49 143.60,287.53 143.85,285.21 144.10,288.88 144.35,285.64 144.60,285.94 144.85,284.00 145.10,283.71 145.35,287.17 145.60,283.53 145.85,288.07 146.10,291.44 146.35,292.88 146.60,287.02 146.85,290.77 147.10,292.67 147.35,293.76 147.60,295.24 147.85,291.83 148.10,295.04 148.35,292.37 148.60,296.21 148.85,300.11 149.10,294.52 149.35,296.33 149.60,295.62 149.85,291.85 150.10,294.26 150.35,290.96 150.60,292.09 150.85,292.48 151.10,289.38 151.35,290.38 151.60,286.30 151.85,285.88 152.10,286.60 152.35,284.90 152.60,284.33 152.85,285.31 153.10,283.01 153.35,284.90 153.60,283.64 153.85,286.76 154.10,285.54 154.35,285.74 154.60,288.67 154.85,288.93 155.10,290.08 155.35,288.86 155.60,292.34 155.85,291.30 156.10,290.38 156.35,293.32 156.60,297.59 156.85,295.35 157.10,294.41 157.35,297.17 157.60,295.01 157.85,295.89 158.10,296.03 158.35,296.81 158.60,296.68 158.85,295.54 159.10,294.21 159.35,292.59 159.60,291.91 159.85,292.29 160.10,290.79 160.35,289.36 160.60,291.99 160.85,289.67 161.10,288.95 161.35,287.21 161.60,286.73 161.85,286.25 162.10,287.03 162.35,284.26 162.60,285.03 162.85,288.61 163.10,286.14 163.35,288.61 163.60,284.28 163.85,288.62 164.10,289.14 164.35,288.96 164.60,290.09 164.85,290.48 165.10,288.33 165.35,291.22 165.60,290.72 165.85,290.70 166.10,294.73 166.35,290.39 166.60,292.24 166.85,291.75 167.10,294.73 167.35,291.52 167.60,291.83 167.85,293.01 168.10,287.62 168.35,290.06 168.60,290.91 168.85,289.60 169.10,287.81 169.35,286.87 169.60,287.27 169.85,285.63 170.10,284.66 170.35,288.85 170.60,287.10 170.85,287.51 171.10,285.44 171.35,282.95 171.60,284.28 171.85,287.32 172.10,286.24 172.35,284.27 172.60,287.37 172.85,287.06 173.10,286.85 173.35,291.04 173.60,287.04 173.85,288.32 174.10,288.44 174.35,291.64 174.60,291.78 174.85,291.99 175.10,291.01 175.35,291.78 175.60,292.08 175.85,289.52 176.10,290.59 176.35,294.19 176.60,294.04 176.85,289.75 177.10,292.96 177.35,289.61 177.60,288.73 177.85,291.88 178.10,290.81 178.35,289.59 178.60,290.62 178.85,290.21 179.10,288.62 179.35,285.89 179.60,287.64 179.85,286.80 180.10,286.92 180.35,288.27 180.60,283.26 180.85,289.92 181.10,287.15 181.35,285.29 181.60,288.97 181.85,285.85 182.10,285.10 182.35,289.14 182.60,287.68 182.85,290.35 183.10,287.93 183.35,289.03 183.60,289.16 183.85,287.49 184.10,289.31 184.35,288.00 184.60,289.35 184.85,292.54 185.10,289.93 185.35,289.37 185.60,292.46 185.85,287.34 186.10,289.18 186.35,288.27 186.60,290.06 186.85,287.98 187.10,287.18 187.35,287.85 187.60,286.73 187.85,290.13 188.10,283.69 188.35,287.57 188.60,289.02 188.85,286.52 189.10,285.94 189.35,283.24 189.60,285.51 189.85,283.27 190.10,285.35 190.35,279.90 190.60,282.91 190.85,280.70 191.10,286.15 191.35,283.60 191.60,286.80 191.85,284.54 192.10,284.75 192.35,289.02 192.60,288.50 192.85,288.73 193.10,289.38 193.35,287.99 193.60,288.21 193.85,288.77 194.10,285.72 194.35,284.51 194.60,287.25 194.85,285.43 195.10,283.92 195.35,283.81 195.60,284.08 195.85,280.93 196.10,280.33 196.35,280.09 196.60,281.11 196.85,276.82 197.10,276.78 197.35,280.09 197.60,279.28 197.85,276.79 198.10,280.13 198.35,278.07 198.60,278.82 198.85,280.36 199.10,279.86 199.35,282.55 199.60,281.18 199.85,284.11 200.10,277.12 200.35,278.83 200.60,279.64 200.85,281.49 201.10,280.43 201.35,279.98 201.60,280.33 201.85,280.27 202.10,283.11 202.35,280.37 202.60,281.58 202.85,282.21 203.10,281.67 203.35,278.51 203.60,277.05 203.85,280.92 204.10,275.30 204.35,275.63 204.60,278.74 204.85,278.85 205.10,278.19 205.35,276.40 205.60,278.81 205.85,280.13 206.10,277.70 206.35,281.95 206.60,278.24 206.85,276.59 207.10,278.22 207.35,277.57 207.60,278.26 207.85,278.07 208.10,279.32 208.35,281.24 208.60,280.42 208.85,280.34 209.10,278.16 209.35,277.56 209.60,279.58 209.85,281.41 210.10,281.04 210.35,279.65 210.60,276.37 210.85,277.56 211.10,277.56 211.35,278.10 211.60,274.56 211.85,274.95 212.10,274.98 212.35,274.24 212.60,271.16 212.85,274.14 213.10,270.86 213.35,271.68 213.60,273.87 213.85,272.64 214.10,274.64 214.35,276.15 214.60,275.48 214.85,276.89 215.10,274.74 215.35,275.90 215.60,275.22 215.85,275.01 216.10,282.04 216.35,276.24 216.60,279.96 216.85,276.53 217.10,278.24 217.35,276.37 217.60,273.95 217.85,279.00 218.10,275.41 218.35,275.55 218.60,278.36 218.85,273.62 219.10,274.35 219.35,274.95 219.60,274.99 219.85,267.87 220.10,273.81 220.35,275.99 220.60,274.27 220.85,273.14 221.10,273.08 221.35,272.54 221.60,274.28 221.85,271.65 222.10,273.59 222.35,275.31 222.60,274.59 222.85,274.07 223.10,272.17 223.35,273.02 223.60,274.65 223.85,274.21 224.10,274.01 224.35,270.94 224.60,275.57 224.85,273.66 225.10,273.12 225.35,275.88 225.60,273.72 225.85,273.55 226.10,274.41 226.35,272.37 226.60,271.33 226.85,270.90 227.10,272.94 227.35,272.02 227.60,268.03 227.85,273.76 228.10,271.21 228.35,269.81 228.60,270.86 228.85,269.77 229.10,270.42 229.35,269.28 229.60,268.28 229.85,270.88 230.10,270.23 230.35,270.83 230.60,271.67 230.85,271.30 231.10,273.57 231.35,270.70 231.60,269.44 231.85,269.83 232.10,270.96 232.35,275.21 232.60,271.26 232.85,275.44 233.10,274.59 233.35,271.56 233.60,276.84 233.85,273.74 234.10,274.90 234.35,275.84 234.60,277.27 234.85,275.20 235.10,276.90 235.35,274.46 235.60,274.32 235.85,278.99 236.10,277.62 236.35,277.43 236.60,279.02 236.85,278.96 237.10,276.86 237.35,277.29 237.60,279.63 237.85,277.47 238.10,275.35 238.35,277.99 238.60,277.13 238.85,272.39 239.10,272.48 239.35,277.20 239.60,276.41 239.85,273.17 240.10,275.71 240.35,274.00 240.60,274.36 240.85,272.71 241.10,278.23 241.35,277.90 241.60,276.48 241.85,272.88 242.10,275.18 242.35,278.12 242.60,274.50 242.85,274.25 243.10,275.93 243.35,276.00 243.60,274.48 243.85,272.86 244.10,274.32 244.35,273.23 244.60,273.80 244.85,273.95 245.10,274.51 245.35,272.21 245.60,273.04 245.85,272.97 246.10,271.13 246.35,272.25 246.60,272.06 246.85,276.85 247.10,273.72 247.35,276.23 247.60,277.03 247.85,277.39 248.10,273.95 248.35,274.60 248.60,277.13 248.85,277.64 249.10,275.40 249.35,275.99 249.60,272.15 249.85,277.49 250.10,278.18 250.35,275.61 250.60,275.41 250.85,275.54 251.10,274.84 251.35,272.93 251.60,277.45 251.85,278.07 252.10,280.35 252.35,276.94 252.60,275.83 252.85,277.59 253.10,274.84 253.35,276.50 253.60,273.56 253.85,275.22 254.10,277.25 254.35,276.20 254.60,277.49 254.85,277.70 255.10,274.21 255.35,273.30 255.60,271.70 255.85,275.58 256.10,276.37 256.35,278.37 256.60,275.19 256.85,276.56 257.10,278.45 257.35,276.23 257.60,276.26 257.85,280.10 258.10,275.09 258.35,275.56 258.60,275.86 258.85,275.30 259.10,271.01 259.35,270.93 259.60,270.10 259.85,275.07 260.10,274.18 260.35,271.57 260.60,275.42 260.85,274.84 261.10,277.04 261.35,271.06 261.60,272.79 261.85,274.19 262.10,274.94 262.35,276.34 262.60,276.54 262.85,274.94 263.10,277.31 263.35,273.92 263.60,276.76 263.85,277.19 264.10,273.14 264.35,275.28 264.60,273.68 264.85,274.96 265.10,277.74 265.35,272.51 265.60,275.43 265.85,270.90 266.10,275.18 266.35,275.49 266.60,271.54 266.85,271.18 267.10,271.61 267.35,273.79 267.60,270.08 267.85,274.09 268.10,272.32 268.35,272.88 268.60,272.21 268.85,270.18 269.10,272.92 269.35,271.07 269.60,271.14 269.85,275.66 270.10,275.11 270.35,274.17 270.60,274.96 270.85,273.81 271.10,278.07 271.35,273.81 271.60,274.04 271.85,275.79 272.10,277.97 272.35,275.55 272.60,276.38 272.85,274.28 273.10,275.16 273.35,273.47 273.60,275.15 273.85,271.55 274.10,277.65 274.35,275.00 274.60,271.91 274.85,274.84 275.10,270.35 275.35,273.08 275.60,270.10 275.85,271.12 276.10,268.67 276.35,267.78 276.60,266.89 276.85,266.00 277.10,265.10 277.35,265.36 277.60,266.38 277.85,267.40 278.10,268.41 278.35,269.43 278.60,270.45 278.85,271.47 279.10,272.66 279.35,273.89 279.60,275.12 279.85,276.35 280.10,277.98 280.35,279.71 280.60,281.44 280.85,283.17 281.10,283.90 281.35,284.39 281.60,284.88 281.85,285.36 282.10,285.85 282.35,286.33 282.60,287.93 282.85,289.81 283.10,291.69 283.35,318.54 283.60,362.04 283.85,362.04 284.10,362.22 284.35,361.97 284.60,362.09 284.85,362.20 285.10,361.18 285.35,362.04 285.60,362.43 285.85,361.67 286.10,361.71 286.35,361.55 286.60,361.33 286.85,362.42 287.10,361.62 287.35,361.59 287.60,362.04 287.85,361.95 288.10,363.25 288.35,362.27 288.60,361.33 288.85,362.76 289.10,362.26 289.35,361.93 289.60,361.81 289.85,361.39 290.10,362.75 290.35,362.03 290.60,361.70 290.85,362.57 291.10,362.06 291.35,361.29 291.60,361.52 291.85,361.83 292.10,363.09 292.35,362.10 292.60,361.89 292.85,362.17 293.10,362.07 293.35,360.81 293.60,362.13 293.85,362.43 294.10,361.95 294.35,362.17 294.60,362.17 294.85,362.08 295.10,361.73 295.35,361.95 295.60,362.53 295.85,362.10 296.10,361.85 296.35,362.23 296.60,361.58 296.85,361.73 297.10,362.44 297.35,361.92 297.60,361.25 297.85,361.42 298.10,362.07 298.35,361.68 298.60,362.31 298.85,362.62 299.10,361.82 299.35,361.94 299.60,361.84 299.85,362.05 300.10,361.91 300.35,362.25 300.60,361.85 300.85,361.71 301.10,362.07 301.35,361.72 301.60,362.75 301.85,362.36 302.10,361.46 302.35,361.34 302.60,361.94 302.85,362.09 303.10,362.55 303.35,361.90 303.60,361.73 303.85,362.64 304.10,361.82 304.35,361.85 304.60,361.87 304.85,362.50 305.10,361.83 305.35,362.64 305.60,361.45 305.85,361.99 306.10,362.51 306.35,361.50 306.60,361.58 306.85,362.30 307.10,361.16 307.35,362.45 307.60,361.92 307.85,361.57 308.10,362.95 308.35,361.64 308.60,362.07 308.85,362.05 309.10,362.48 309.35,361.91 309.60,362.49 309.85,362.43 310.10,362.22 310.35,362.54 310.60,361.41 310.85,362.58 311.10,362.35 311.35,362.17 311.60,362.04 311.85,361.73 312.10,361.72 312.35,362.16 312.60,362.20 312.85,362.03 313.10,361.71 313.35,361.76 313.60,362.25 313.85,362.87 314.10,361.18 314.35,361.66 314.60,361.94 314.85,361.91 315.10,362.25 315.35,362.44 315.60,362.18 315.85,362.13 316.10,362.29 316.35,362.63 316.60,362.17 316.85,361.81 317.10,362.24 317.35,362.03 317.60,362.87 317.85,362.13 318.10,362.09 318.35,362.54 318.60,362.74 318.85,361.88 319.10,362.37 319.35,361.85 319.60,362.21 319.85,361.79 320.10,362.18 320.35,362.65 320.60,362.08 320.85,362.18 321.10,361.78 321.35,362.22 321.60,362.20 321.85,361.70 322.10,361.58 322.35,361.74 322.60,361.63 322.85,361.86 323.10,361.73 323.35,361.69 323.60,361.88 323.85,362.02 324.10,361.99 324.35,361.08 324.60,362.04 324.85,362.14 325.10,362.19 325.35,362.06 325.60,361.95 325.85,362.50 326.10,362.84 326.35,361.93 326.60,362.69 326.85,361.94 327.10,361.99 327.35,361.58 327.60,361.37 327.85,361.90 328.10,362.27 328.35,362.51 328.60,362.36 328.85,362.03 329.10,362.87 329.35,362.01 329.60,362.05 329.85,361.79 330.10,362.18 330.35,362.00 330.60,362.34 330.85,362.23 331.10,362.75 331.35,361.99 331.60,361.42 331.85,361.98 332.10,361.90 332.35,362.44 332.60,361.47 332.85,362.35 333.10,361.72 333.35,362.00 333.60,362.43 333.85,361.63 334.10,362.04 334.35,361.97 334.60,361.86 334.85,362.05 335.10,362.20 335.35,361.86 335.60,362.21 335.85,362.02 336.10,362.31 336.35,362.64 336.60,362.31 336.85,362.24 337.10,362.04 337.35,361.57 337.60,362.72 337.85,361.99 338.10,362.93 338.35,362.46 338.60,362.25 338.85,362.95 339.10,362.79 339.35,361.98 339.60,362.01 339.85,362.09 340.10,362.37 340.35,361.18 340.60,362.11 340.85,362.39 341.10,361.37 341.35,361.80 341.60,362.19 341.85,361.57 342.10,361.98 342.35,361.79 342.60,361.95 342.85,362.46 343.10,361.65 343.35,361.98 343.60,362.45 343.85,362.35 344.10,361.66 344.35,362.19 344.60,362.02 344.85,361.78 345.10,361.99 345.35,362.66 345.60,361.79 345.85,361.67 346.10,361.70 346.35,361.40 346.60,361.90 346.85,361.73 347.10,361.41 347.35,362.16 347.60,361.35 347.85,361.35 348.10,361.73 348.35,361.31 348.60,361.70 348.85,362.40" fill="none" stroke="#4472C4" stroke-width="2.6" stroke-linejoin="round" stroke-linecap="butt"/>
<polyline points="56.60,363.48 56.85,363.62 57.10,363.61 57.35,363.66 57.60,363.44 57.85,363.58 58.10,363.81 58.35,363.59 58.60,363.55 58.85,363.82 59.10,363.76 59.35,363.75 59.60,363.79 59.85,363.62 60.10,363.50 60.35,363.34 60.60,363.47 60.85,363.50 61.10,363.48 61.35,363.44 61.60,363.75 61.85,363.56 62.10,363.62 62.35,363.71 62.60,363.77 62.85,363.78 63.10,363.73 63.35,363.91 63.60,363.59 63.85,363.69 64.10,363.66 64.35,363.62 64.60,363.55 64.85,363.79 65.10,363.70 65.35,363.98 65.60,364.09 65.85,364.04 66.10,363.40 66.35,364.02 66.60,363.60 66.85,363.41 67.10,363.77 67.35,363.39 67.60,363.35 67.85,363.51 68.10,363.25 68.35,363.57 68.60,363.82 68.85,363.59 69.10,363.76 69.35,363.92 69.60,363.92 69.85,363.26 70.10,363.78 70.35,363.69 70.60,363.80 70.85,363.66 71.10,363.73 71.35,363.76 71.60,363.90 71.85,363.94 72.10,363.82 72.35,363.63 72.60,363.30 72.85,363.49 73.10,363.35 73.35,363.59 73.60,363.70 73.85,363.92 74.10,363.68 74.35,364.07 74.60,363.74 74.85,363.38 75.10,363.62 75.35,363.47 75.60,363.75 75.85,363.93 76.10,363.77 76.35,363.75 76.60,363.46 76.85,363.32 77.10,363.81 77.35,363.74 77.60,363.71 77.85,363.74 78.10,363.91 78.35,363.66 78.60,363.61 78.85,363.61 79.10,363.90 79.35,363.70 79.60,364.00 79.85,363.51 80.10,363.86 80.35,363.73 80.60,363.76 80.85,363.78 81.10,363.87 81.35,364.00 81.60,363.36 81.85,363.63 82.10,363.68 82.35,363.68 82.60,363.68 82.85,354.92 83.10,362.98 83.35,350.21 83.60,364.07 83.85,349.52 84.10,363.85 84.35,350.90 84.60,363.35 84.85,348.89 85.10,362.76 85.35,361.93 85.60,358.49 85.85,352.13 86.10,346.31 86.35,340.49 86.60,334.67 86.85,328.85 87.10,323.03 87.35,317.21 87.60,311.39 87.85,311.24 88.10,310.63 88.35,307.64 88.60,310.89 88.85,309.73 89.10,310.40 89.35,308.44 89.60,309.35 89.85,309.49 90.10,310.28 90.35,309.45 90.60,308.08 90.85,313.10 91.10,310.09 91.35,310.53 91.60,310.35 91.85,312.94 92.10,308.75 92.35,311.19 92.60,310.24 92.85,310.66 93.10,312.47 93.35,310.57 93.60,312.74 93.85,311.34 94.10,310.37 94.35,309.89 94.60,309.80 94.85,310.10 95.10,306.57 95.35,309.21 95.60,311.78 95.85,310.83 96.10,310.90 96.35,310.16 96.60,310.82 96.85,311.21 97.10,307.33 97.35,309.81 97.60,310.41 97.85,310.27 98.10,310.22 98.35,307.73 98.60,309.14 98.85,308.14 99.10,314.71 99.35,309.38 99.60,308.24 99.85,306.82 100.10,309.84 100.35,312.54 100.60,308.97 100.85,310.81 101.10,312.66 101.35,310.84 101.60,308.24 101.85,308.02 102.10,308.76 102.35,311.50 102.60,305.98 102.85,311.69 103.10,310.00 103.35,312.12 103.60,307.84 103.85,309.19 104.10,308.50 104.35,309.74 104.60,309.98 104.85,309.61 105.10,312.80 105.35,308.33 105.60,308.46 105.85,310.48 106.10,309.89 106.35,309.41 106.60,307.44 106.85,309.20 107.10,309.81 107.35,310.66 107.60,312.20 107.85,310.79 108.10,309.76 108.35,310.26 108.60,309.75 108.85,308.71 109.10,309.19 109.35,309.44 109.60,308.85 109.85,309.58 110.10,309.91 110.35,309.14 110.60,312.54 110.85,307.92 111.10,311.86 111.35,308.57 111.60,309.84 111.85,308.15 112.10,309.81 112.35,311.32 112.60,308.20 112.85,309.57 113.10,309.67 113.35,309.73 113.60,308.31 113.85,308.59 114.10,309.50 114.35,312.26 114.60,310.48 114.85,309.69 115.10,307.07 115.35,309.26 115.60,310.00 115.85,308.00 116.10,310.03 116.35,309.90 116.60,309.61 116.85,312.17 117.10,308.37 117.35,309.19 117.60,310.29 117.85,311.62 118.10,309.52 118.35,307.68 118.60,310.84 118.85,311.49 119.10,309.20 119.35,312.32 119.60,313.29 119.85,310.54 120.10,310.92 120.35,310.28 120.60,310.70 120.85,309.33 121.10,310.19 121.35,310.77 121.60,310.55 121.85,308.87 122.10,308.36 122.35,308.44 122.60,308.77 122.85,314.95 123.10,311.40 123.35,310.33 123.60,309.53 123.85,312.35 124.10,307.64 124.35,309.37 124.60,310.80 124.85,309.59 125.10,310.38 125.35,311.02 125.60,309.06 125.85,310.54 126.10,312.03 126.35,310.82 126.60,310.02 126.85,311.51 127.10,307.89 127.35,311.53 127.60,307.12 127.85,308.45 128.10,311.30 128.35,309.64 128.60,308.01 128.85,310.13 129.10,311.68 129.35,309.66 129.60,306.75 129.85,312.14 130.10,308.98 130.35,309.82 130.60,310.02 130.85,310.44 131.10,310.33 131.35,308.22 131.60,308.91 131.85,311.38 132.10,307.42 132.35,311.84 132.60,308.80 132.85,309.54 133.10,307.97 133.35,309.28 133.60,308.19 133.85,309.86 134.10,308.32 134.35,309.29 134.60,306.50 134.85,310.90 135.10,307.97 135.35,309.10 135.60,309.55 135.85,310.70 136.10,309.13 136.35,312.10 136.60,311.94 136.85,308.72 137.10,312.23 137.35,307.60 137.60,310.25 137.85,309.43 138.10,309.70 138.35,309.17 138.60,310.25 138.85,310.39 139.10,310.01 139.35,308.19 139.60,308.06 139.85,307.85 140.10,309.25 140.35,310.13 140.60,312.42 140.85,308.82 141.10,308.52 141.35,310.44 141.60,308.57 141.85,307.82 142.10,309.67 142.35,308.18 142.60,309.34 142.85,312.50 143.10,310.55 143.35,310.45 143.60,309.00 143.85,311.15 144.10,310.50 144.35,311.31 144.60,309.88 144.85,309.71 145.10,308.31 145.35,308.58 145.60,309.56 145.85,309.44 146.10,309.65 146.35,309.64 146.60,307.42 146.85,313.67 147.10,310.09 147.35,309.33 147.60,308.07 147.85,311.51 148.10,309.28 148.35,308.48 148.60,310.50 148.85,312.77 149.10,310.37 149.35,311.67 149.60,308.81 149.85,311.13 150.10,307.06 150.35,309.60 150.60,311.06 150.85,310.60 151.10,311.51 151.35,309.21 151.60,307.51 151.85,310.15 152.10,308.38 152.35,311.27 152.60,309.34 152.85,306.25 153.10,311.99 153.35,307.91 153.60,308.00 153.85,312.73 154.10,312.04 154.35,311.33 154.60,308.31 154.85,310.48 155.10,310.07 155.35,308.72 155.60,309.63 155.85,309.47 156.10,310.31 156.35,308.07 156.60,311.02 156.85,307.22 157.10,310.34 157.35,311.05 157.60,308.82 157.85,309.12 158.10,312.88 158.35,309.48 158.60,311.91 158.85,311.10 159.10,308.60 159.35,311.15 159.60,309.27 159.85,310.41 160.10,306.83 160.35,309.97 160.60,311.64 160.85,311.53 161.10,311.23 161.35,309.63 161.60,309.83 161.85,308.32 162.10,309.57 162.35,309.63 162.60,309.33 162.85,310.03 163.10,309.38 163.35,308.62 163.60,308.62 163.85,310.68 164.10,312.57 164.35,311.08 164.60,309.40 164.85,313.69 165.10,310.57 165.35,309.14 165.60,310.71 165.85,311.57 166.10,307.12 166.35,307.69 166.60,310.24 166.85,307.79 167.10,307.83 167.35,311.59 167.60,305.69 167.85,311.29 168.10,310.25 168.35,311.54 168.60,309.72 168.85,311.88 169.10,309.86 169.35,308.17 169.60,309.52 169.85,310.26 170.10,307.46 170.35,311.24 170.60,308.35 170.85,310.32 171.10,309.52 171.35,309.80 171.60,309.65 171.85,309.94 172.10,311.07 172.35,310.74 172.60,309.17 172.85,310.02 173.10,311.66 173.35,310.95 173.60,310.93 173.85,309.95 174.10,309.59 174.35,309.72 174.60,310.88 174.85,309.84 175.10,311.99 175.35,314.33 175.60,309.96 175.85,312.43 176.10,311.34 176.35,311.74 176.60,308.90 176.85,311.75 177.10,309.45 177.35,310.64 177.60,311.80 177.85,312.32 178.10,309.17 178.35,309.29 178.60,308.69 178.85,307.06 179.10,309.47 179.35,309.46 179.60,310.09 179.85,309.74 180.10,310.44 180.35,311.29 180.60,306.82 180.85,312.79 181.10,309.51 181.35,309.22 181.60,309.68 181.85,311.40 182.10,310.21 182.35,310.63 182.60,311.58 182.85,309.99 183.10,310.55 183.35,310.78 183.60,308.86 183.85,311.56 184.10,309.24 184.35,310.87 184.60,309.27 184.85,309.82 185.10,309.56 185.35,311.45 185.60,311.13 185.85,311.26 186.10,309.67 186.35,308.78 186.60,308.27 186.85,310.71 187.10,309.81 187.35,312.44 187.60,313.37 187.85,311.28 188.10,310.97 188.35,312.35 188.60,312.70 188.85,309.12 189.10,311.19 189.35,312.55 189.60,306.36 189.85,309.69 190.10,310.45 190.35,308.91 190.60,311.13 190.85,307.51 191.10,312.34 191.35,311.98 191.60,310.18 191.85,311.15 192.10,307.79 192.35,312.44 192.60,311.10 192.85,309.60 193.10,309.10 193.35,308.43 193.60,309.45 193.85,306.57 194.10,310.71 194.35,309.71 194.60,308.66 194.85,310.47 195.10,310.44 195.35,310.70 195.60,310.98 195.85,311.73 196.10,310.85 196.35,312.38 196.60,309.41 196.85,312.45 197.10,306.81 197.35,307.37 197.60,308.29 197.85,310.32 198.10,310.90 198.35,308.11 198.60,309.72 198.85,309.14 199.10,311.11 199.35,308.36 199.60,311.24 199.85,309.84 200.10,312.68 200.35,311.02 200.60,309.23 200.85,310.70 201.10,310.70 201.35,308.79 201.60,310.12 201.85,308.09 202.10,313.74 202.35,309.13 202.60,309.23 202.85,312.39 203.10,312.02 203.35,308.66 203.60,311.66 203.85,311.00 204.10,309.09 204.35,310.53 204.60,309.28 204.85,311.35 205.10,309.56 205.35,308.35 205.60,309.51 205.85,313.40 206.10,309.01 206.35,309.93 206.60,311.41 206.85,307.87 207.10,312.71 207.35,307.13 207.60,310.99 207.85,307.59 208.10,310.09 208.35,312.07 208.60,309.87 208.85,309.51 209.10,309.18 209.35,308.38 209.60,311.40 209.85,309.26 210.10,308.88 210.35,310.44 210.60,311.46 210.85,311.49 211.10,308.86 211.35,308.79 211.60,311.30 211.85,312.08 212.10,308.11 212.35,312.41 212.60,309.77 212.85,311.26 213.10,312.73 213.35,309.83 213.60,310.31 213.85,307.80 214.10,306.52 214.35,310.31 214.60,308.44 214.85,308.41 215.10,310.83 215.35,311.36 215.60,307.54 215.85,310.58 216.10,310.06 216.35,310.47 216.60,310.23 216.85,310.95 217.10,308.87 217.35,308.09 217.60,310.60 217.85,312.15 218.10,309.94 218.35,312.31 218.60,311.01 218.85,308.12 219.10,306.44 219.35,309.44 219.60,311.66 219.85,308.82 220.10,313.48 220.35,311.09 220.60,307.67 220.85,308.87 221.10,312.15 221.35,312.58 221.60,308.70 221.85,310.09 222.10,310.94 222.35,309.39 222.60,310.91 222.85,312.98 223.10,308.78 223.35,311.02 223.60,311.57 223.85,312.08 224.10,309.64 224.35,311.26 224.60,309.06 224.85,310.43 225.10,308.36 225.35,310.62 225.60,311.03 225.85,313.06 226.10,311.71 226.35,308.91 226.60,305.31 226.85,311.95 227.10,311.62 227.35,309.50 227.60,309.29 227.85,311.06 228.10,309.90 228.35,312.50 228.60,310.48 228.85,308.63 229.10,307.50 229.35,310.28 229.60,310.42 229.85,309.32 230.10,308.31 230.35,309.27 230.60,311.18 230.85,309.47 231.10,308.53 231.35,311.12 231.60,312.08 231.85,309.23 232.10,309.45 232.35,308.53 232.60,309.88 232.85,311.01 233.10,310.69 233.35,311.60 233.60,311.48 233.85,310.88 234.10,310.76 234.35,308.30 234.60,311.91 234.85,310.09 235.10,310.92 235.35,307.72 235.60,309.61 235.85,310.59 236.10,308.76 236.35,309.91 236.60,310.74 236.85,307.65 237.10,308.92 237.35,305.84 237.60,304.72 237.85,303.07 238.10,302.79 238.35,305.71 238.60,306.58 238.85,309.45 239.10,308.97 239.35,310.02 239.60,311.07 239.85,311.55 240.10,308.93 240.35,308.01 240.60,310.45 240.85,309.30 241.10,307.87 241.35,311.29 241.60,310.53 241.85,311.72 242.10,308.19 242.35,309.60 242.60,310.71 242.85,312.55 243.10,310.28 243.35,308.46 243.60,310.45 243.85,310.65 244.10,309.01 244.35,311.89 244.60,309.92 244.85,309.08 245.10,311.20 245.35,311.27 245.60,309.61 245.85,310.15 246.10,310.36 246.35,309.68 246.60,309.65 246.85,311.42 247.10,311.02 247.35,309.30 247.60,308.27 247.85,307.91 248.10,311.29 248.35,308.31 248.60,308.83 248.85,310.04 249.10,309.24 249.35,308.71 249.60,307.24 249.85,311.61 250.10,309.07 250.35,310.20 250.60,310.31 250.85,308.23 251.10,308.73 251.35,311.55 251.60,310.42 251.85,309.64 252.10,312.15 252.35,308.66 252.60,310.10 252.85,309.74 253.10,309.47 253.35,307.21 253.60,309.93 253.85,310.53 254.10,307.32 254.35,310.75 254.60,310.79 254.85,312.11 255.10,308.32 255.35,309.56 255.60,309.26 255.85,309.73 256.10,310.19 256.35,311.18 256.60,311.18 256.85,309.32 257.10,309.79 257.35,307.48 257.60,311.14 257.85,310.73 258.10,311.54 258.35,307.87 258.60,311.87 258.85,308.80 259.10,307.77 259.35,310.19 259.60,308.87 259.85,313.24 260.10,310.57 260.35,312.52 260.60,309.71 260.85,309.96 261.10,311.15 261.35,308.53 261.60,309.43 261.85,310.78 262.10,310.76 262.35,312.23 262.60,310.26 262.85,306.73 263.10,311.06 263.35,309.33 263.60,310.81 263.85,308.74 264.10,309.30 264.35,310.33 264.60,312.70 264.85,310.76 265.10,308.14 265.35,310.35 265.60,309.01 265.85,310.71 266.10,312.83 266.35,309.32 266.60,309.48 266.85,310.86 267.10,310.54 267.35,309.53 267.60,310.88 267.85,309.44 268.10,310.28 268.35,313.58 268.60,310.19 268.85,310.89 269.10,311.25 269.35,309.36 269.60,310.72 269.85,309.14 270.10,308.30 270.35,309.75 270.60,312.34 270.85,311.09 271.10,308.57 271.35,310.37 271.60,311.20 271.85,310.11 272.10,309.20 272.35,309.57 272.60,308.98 272.85,311.23 273.10,310.39 273.35,310.35 273.60,310.00 273.85,313.17 274.10,310.33 274.35,312.02 274.60,307.84 274.85,307.58 275.10,307.39 275.35,308.73 275.60,310.71 275.85,308.50 276.10,310.27 276.35,309.03 276.60,311.35 276.85,310.86 277.10,309.25 277.35,307.25 277.60,310.00 277.85,306.51 278.10,305.74 278.35,311.92 278.60,310.00 278.85,311.42 279.10,310.17 279.35,310.78 279.60,310.06 279.85,308.48 280.10,308.52 280.35,309.56 280.60,309.96 280.85,309.78 281.10,309.93 281.35,310.12 281.60,311.03 281.85,311.94 282.10,312.85 282.35,324.03 282.60,342.05 282.85,360.08 283.10,363.66 283.35,363.58 283.60,363.69 283.85,363.60 284.10,363.92 284.35,363.54 284.60,363.37 284.85,363.65 285.10,363.94 285.35,363.44 285.60,363.75 285.85,364.22 286.10,363.73 286.35,363.58 286.60,363.62 286.85,363.46 287.10,363.57 287.35,363.66 287.60,364.04 287.85,363.89 288.10,363.65 288.35,363.56 288.60,363.87 288.85,363.80 289.10,363.60 289.35,364.03 289.60,364.04 289.85,363.73 290.10,363.64 290.35,363.77 290.60,364.10 290.85,363.68 291.10,363.93 291.35,363.57 291.60,363.70 291.85,363.64 292.10,363.57 292.35,363.78 292.60,363.54 292.85,363.46 293.10,363.61 293.35,363.45 293.60,363.80 293.85,363.52 294.10,363.64 294.35,363.86 294.60,363.70 294.85,363.78 295.10,363.79 295.35,363.67 295.60,363.49 295.85,363.74 296.10,363.66 296.35,363.95 296.60,363.67 296.85,363.48 297.10,363.54 297.35,363.60 297.60,363.66 297.85,363.44 298.10,363.04 298.35,362.86 298.60,362.54 298.85,362.19 299.10,362.16 299.35,362.35 299.60,362.80 299.85,362.93 300.10,363.40 300.35,363.49 300.60,363.87 300.85,363.68 301.10,363.71 301.35,363.77 301.60,363.59 301.85,363.41 302.10,363.79 302.35,363.53 302.60,363.67 302.85,363.69 303.10,363.29 303.35,364.08 303.60,363.81 303.85,364.01 304.10,363.74 304.35,363.73 304.60,363.00 304.85,363.62 305.10,363.36 305.35,363.45 305.60,363.77 305.85,363.60 306.10,363.38 306.35,363.65 306.60,363.65 306.85,363.59 307.10,363.96 307.35,363.83 307.60,363.62 307.85,363.59 308.10,363.85 308.35,363.74 308.60,363.71 308.85,363.71 309.10,363.56 309.35,363.67 309.60,363.66 309.85,363.94 310.10,363.88 310.35,363.63 310.60,363.97 310.85,363.64 311.10,363.81 311.35,363.83 311.60,363.57 311.85,363.81 312.10,363.84 312.35,363.81 312.60,363.68 312.85,363.19 313.10,364.07 313.35,363.69 313.60,363.73 313.85,363.51 314.10,363.75 314.35,364.13 314.60,363.45 314.85,363.88 315.10,363.70 315.35,363.93 315.60,363.89 315.85,363.78 316.10,363.53 316.35,363.53 316.60,363.80 316.85,363.60 317.10,363.75 317.35,363.67 317.60,363.66 317.85,363.58 318.10,363.80 318.35,363.71 318.60,363.65 318.85,363.67 319.10,363.83 319.35,363.38 319.60,363.77 319.85,363.55 320.10,363.65 320.35,363.47 320.60,364.08 320.85,363.32 321.10,363.73 321.35,363.91 321.60,363.67 321.85,363.28 322.10,363.60 322.35,363.91 322.60,363.77 322.85,363.45 323.10,363.94 323.35,363.72 323.60,363.74 323.85,363.30 324.10,363.74 324.35,363.45 324.60,363.81 324.85,363.83 325.10,363.51 325.35,363.58 325.60,364.00 325.85,363.57 326.10,363.57 326.35,363.80 326.60,363.65 326.85,363.64 327.10,363.78 327.35,363.79 327.60,363.81 327.85,363.74 328.10,363.93 328.35,363.70 328.60,363.96 328.85,363.68 329.10,363.70 329.35,363.88 329.60,363.54 329.85,363.34 330.10,363.45 330.35,363.94 330.60,363.46 330.85,363.65 331.10,363.70 331.35,363.80 331.60,363.69 331.85,363.44 332.10,363.59 332.35,363.76 332.60,363.81 332.85,363.76 333.10,363.58 333.35,363.35 333.60,363.88 333.85,363.69 334.10,363.76 334.35,363.83 334.60,363.62 334.85,363.59 335.10,363.95 335.35,363.88 335.60,363.47 335.85,363.63 336.10,363.60 336.35,363.78 336.60,363.76 336.85,363.61 337.10,363.78 337.35,363.89 337.60,363.69 337.85,363.53 338.10,363.88 338.35,363.50 338.60,363.56 338.85,363.85 339.10,363.69 339.35,363.70 339.60,363.58 339.85,363.57 340.10,363.92 340.35,363.93 340.60,363.50 340.85,363.67 341.10,363.61 341.35,363.63 341.60,363.41 341.85,363.91 342.10,363.49 342.35,363.84 342.60,363.56 342.85,363.45 343.10,363.94 343.35,363.62 343.60,363.74 343.85,363.74 344.10,363.68 344.35,363.88 344.60,363.86 344.85,363.57 345.10,363.54 345.35,363.79 345.60,363.95 345.85,363.27 346.10,363.49 346.35,363.62 346.60,363.88 346.85,363.79 347.10,363.65 347.35,363.86 347.60,363.40 347.85,363.66 348.10,363.62 348.35,363.87 348.60,363.85 348.85,363.83" fill="none" stroke="#FF0000" stroke-width="2.4" stroke-linejoin="round" stroke-linecap="butt"/>
<polyline points="437.60,362.22 437.85,362.64 438.10,361.98 438.35,362.88 438.60,362.61 438.85,362.79 439.10,362.45 439.35,362.52 439.60,363.00 439.85,362.74 440.10,362.21 440.35,362.14 440.60,362.22 440.85,362.25 441.10,362.78 441.35,362.80 441.60,362.22 441.85,363.16 442.10,362.66 442.35,363.47 442.60,362.80 442.85,362.95 443.10,363.17 443.35,362.37 443.60,362.96 443.85,362.80 444.10,362.75 444.35,362.96 444.60,362.00 444.85,362.85 445.10,362.54 445.35,363.22 445.60,362.85 445.85,362.78 446.10,362.77 446.35,362.90 446.60,362.57 446.85,361.93 447.10,362.69 447.35,362.70 447.60,362.81 447.85,361.50 448.10,361.91 448.35,362.38 448.60,362.32 448.85,362.95 449.10,362.70 449.35,362.54 449.60,362.58 449.85,363.02 450.10,362.98 450.35,362.40 450.60,362.49 450.85,363.58 451.10,362.59 451.35,362.06 451.60,362.92 451.85,362.52 452.10,363.28 452.35,362.26 452.60,363.13 452.85,363.19 453.10,362.77 453.35,361.57 453.60,362.91 453.85,363.20 454.10,362.43 454.35,362.53 454.60,361.89 454.85,363.20 455.10,363.35 455.35,362.77 455.60,362.46 455.85,362.47 456.10,362.15 456.35,363.30 456.60,363.00 456.85,362.69 457.10,362.26 457.35,362.42 457.60,362.82 457.85,363.09 458.10,362.24 458.35,362.21 458.60,361.42 458.85,362.71 459.10,361.91 459.35,363.17 459.60,362.88 459.85,362.94 460.10,362.84 460.35,363.02 460.60,362.88 460.85,362.66 461.10,362.83 461.35,362.34 461.60,362.67 461.85,362.63 462.10,361.97 462.35,362.49 462.60,362.56 462.85,362.64 463.10,362.60 463.35,362.38 463.60,362.99 463.85,362.12 464.10,361.93 464.35,362.12 464.60,362.85 464.85,363.34 465.10,362.83 465.35,362.56 465.60,362.26 465.85,362.71 466.10,362.77 466.35,361.95 466.60,362.93 466.85,362.15 467.10,362.23 467.35,363.23 467.60,362.51 467.85,362.88 468.10,363.06 468.35,363.46 468.60,363.33 468.85,362.45 469.10,362.81 469.35,362.51 469.60,363.11 469.85,362.78 470.10,362.75 470.35,363.32 470.60,363.38 470.85,362.43 471.10,362.57 471.35,363.05 471.60,362.68 471.85,362.34 472.10,362.62 472.35,336.32 472.60,306.85 472.85,300.74 473.10,301.85 473.35,302.96 473.60,303.22 473.85,302.21 474.10,301.21 474.35,300.20 474.60,299.19 474.85,298.18 475.10,297.17 475.35,296.16 475.60,295.16 475.85,294.15 476.10,293.33 476.35,292.56 476.60,291.79 476.85,291.01 477.10,290.24 477.35,289.47 477.60,288.70 477.85,287.93 478.10,287.16 478.35,286.39 478.60,285.61 478.85,284.74 479.10,283.43 479.35,282.13 479.60,280.83 479.85,279.53 480.10,278.23 480.35,276.93 480.60,275.63 480.85,274.38 481.10,273.38 481.35,272.38 481.60,271.37 481.85,270.37 482.10,269.36 482.35,268.01 482.60,265.27 482.85,262.53 483.10,259.79 483.35,257.05 483.60,254.31 483.85,254.26 484.10,255.99 484.35,257.73 484.60,259.46 484.85,261.20 485.10,262.93 485.35,263.83 485.60,264.16 485.85,264.50 486.10,261.53 486.35,267.08 486.60,265.06 486.85,263.08 487.10,267.49 487.35,265.75 487.60,273.82 487.85,267.43 488.10,270.88 488.35,275.04 488.60,271.07 488.85,271.31 489.10,271.64 489.35,272.16 489.60,274.72 489.85,276.21 490.10,275.74 490.35,274.88 490.60,273.84 490.85,275.05 491.10,273.60 491.35,271.52 491.60,271.82 491.85,267.55 492.10,267.01 492.35,272.11 492.60,270.27 492.85,270.83 493.10,269.87 493.35,266.21 493.60,268.53 493.85,268.37 494.10,266.92 494.35,265.16 494.60,267.60 494.85,268.15 495.10,266.56 495.35,268.18 495.60,269.10 495.85,269.16 496.10,273.64 496.35,272.39 496.60,274.85 496.85,272.75 497.10,273.93 497.35,277.95 497.60,274.22 497.85,279.09 498.10,275.09 498.35,276.83 498.60,278.59 498.85,278.72 499.10,276.83 499.35,275.80 499.60,276.44 499.85,273.53 500.10,276.41 500.35,273.25 500.60,272.56 500.85,275.26 501.10,270.67 501.35,272.82 501.60,274.37 501.85,270.33 502.10,268.99 502.35,266.33 502.60,268.26 502.85,264.22 503.10,263.86 503.35,264.19 503.60,263.63 503.85,265.42 504.10,267.26 504.35,265.49 504.60,265.47 504.85,267.47 505.10,269.14 505.35,272.40 505.60,269.28 505.85,270.80 506.10,274.72 506.35,273.13 506.60,272.89 506.85,275.20 507.10,274.30 507.35,274.93 507.60,279.35 507.85,277.45 508.10,276.04 508.35,275.08 508.60,273.82 508.85,279.30 509.10,275.33 509.35,273.20 509.60,271.51 509.85,269.86 510.10,273.77 510.35,271.93 510.60,272.34 510.85,268.18 511.10,271.30 511.35,266.11 511.60,265.98 511.85,266.33 512.10,270.83 512.35,267.99 512.60,265.45 512.85,269.54 513.10,267.75 513.35,267.95 513.60,266.68 513.85,268.36 514.10,269.00 514.35,270.94 514.60,270.79 514.85,271.69 515.10,270.76 515.35,273.00 515.60,271.37 515.85,276.78 516.10,271.94 516.35,274.67 516.60,272.46 516.85,274.32 517.10,272.76 517.35,271.32 517.60,274.62 517.85,273.02 518.10,272.99 518.35,271.85 518.60,274.74 518.85,271.80 519.10,271.73 519.35,272.60 519.60,271.55 519.85,274.08 520.10,268.93 520.35,270.82 520.60,268.36 520.85,273.41 521.10,273.92 521.35,271.17 521.60,274.45 521.85,270.71 522.10,272.02 522.35,271.00 522.60,269.64 522.85,269.82 523.10,266.48 523.35,268.78 523.60,272.49 523.85,268.77 524.10,273.45 524.35,271.47 524.60,274.52 524.85,274.45 525.10,271.30 525.35,275.39 525.60,276.26 525.85,276.81 526.10,277.02 526.35,274.45 526.60,279.69 526.85,280.20 527.10,277.19 527.35,281.22 527.60,278.95 527.85,276.03 528.10,277.70 528.35,278.08 528.60,277.92 528.85,277.64 529.10,276.36 529.35,274.33 529.60,271.59 529.85,271.36 530.10,273.41 530.35,273.01 530.60,269.79 530.85,273.73 531.10,270.76 531.35,270.19 531.60,271.39 531.85,271.12 532.10,268.81 532.35,272.68 532.60,271.74 532.85,271.77 533.10,271.05 533.35,274.32 533.60,270.58 533.85,273.81 534.10,274.44 534.35,275.36 534.60,276.64 534.85,277.92 535.10,274.78 535.35,277.15 535.60,278.34 535.85,276.90 536.10,280.43 536.35,278.35 536.60,279.65 536.85,281.35 537.10,278.30 537.35,282.14 537.60,277.95 537.85,280.30 538.10,277.49 538.35,275.21 538.60,276.12 538.85,277.65 539.10,276.04 539.35,276.07 539.60,276.93 539.85,276.23 540.10,273.58 540.35,272.13 540.60,275.72 540.85,272.16 541.10,270.66 541.35,270.98 541.60,272.70 541.85,268.87 542.10,272.90 542.35,269.69 542.60,268.27 542.85,275.25 543.10,271.67 543.35,272.22 543.60,273.09 543.85,275.64 544.10,275.60 544.35,278.33 544.60,276.35 544.85,276.34 545.10,279.15 545.35,280.17 545.60,279.77 545.85,279.19 546.10,279.13 546.35,279.31 546.60,278.69 546.85,280.70 547.10,282.64 547.35,275.94 547.60,273.72 547.85,277.98 548.10,275.78 548.35,273.18 548.60,271.14 548.85,270.82 549.10,268.83 549.35,270.39 549.60,268.76 549.85,268.04 550.10,268.92 550.35,265.51 550.60,266.23 550.85,265.48 551.10,268.04 551.35,265.82 551.60,270.09 551.85,268.21 552.10,274.45 552.35,272.54 552.60,270.44 552.85,273.64 553.10,273.61 553.35,277.90 553.60,273.27 553.85,275.95 554.10,277.94 554.35,277.89 554.60,278.61 554.85,277.03 555.10,279.32 555.35,282.25 555.60,279.79 555.85,276.57 556.10,277.23 556.35,278.27 556.60,275.63 556.85,275.67 557.10,273.92 557.35,276.95 557.60,274.83 557.85,271.15 558.10,271.87 558.35,270.00 558.60,266.33 558.85,269.66 559.10,268.05 559.35,269.00 559.60,268.81 559.85,267.71 560.10,270.26 560.35,271.72 560.60,265.99 560.85,269.24 561.10,267.79 561.35,270.41 561.60,271.24 561.85,271.23 562.10,272.08 562.35,276.46 562.60,273.10 562.85,277.93 563.10,276.75 563.35,273.44 563.60,278.68 563.85,276.59 564.10,280.81 564.35,279.56 564.60,280.85 564.85,280.28 565.10,282.43 565.35,282.23 565.60,279.51 565.85,282.26 566.10,280.25 566.35,276.79 566.60,278.18 566.85,277.79 567.10,277.28 567.35,274.14 567.60,274.15 567.85,272.34 568.10,272.07 568.35,267.59 568.60,270.88 568.85,272.89 569.10,268.60 569.35,268.35 569.60,267.80 569.85,270.86 570.10,266.09 570.35,268.46 570.60,268.94 570.85,272.27 571.10,269.30 571.35,271.02 571.60,269.30 571.85,273.27 572.10,275.56 572.35,273.96 572.60,276.62 572.85,275.03 573.10,278.39 573.35,277.30 573.60,277.95 573.85,277.92 574.10,278.91 574.35,279.37 574.60,277.76 574.85,278.24 575.10,276.34 575.35,276.37 575.60,279.07 575.85,274.32 576.10,270.84 576.35,271.85 576.60,270.42 576.85,269.79 577.10,270.61 577.35,271.40 577.60,266.97 577.85,266.06 578.10,266.62 578.35,266.77 578.60,266.92 578.85,267.95 579.10,267.87 579.35,268.92 579.60,269.06 579.85,272.07 580.10,272.31 580.35,271.02 580.60,273.46 580.85,277.95 581.10,274.24 581.35,279.22 581.60,272.46 581.85,275.10 582.10,275.59 582.35,278.19 582.60,279.10 582.85,277.42 583.10,276.80 583.35,277.87 583.60,275.81 583.85,274.40 584.10,274.02 584.35,276.35 584.60,277.75 584.85,273.36 585.10,273.93 585.35,271.40 585.60,268.72 585.85,268.13 586.10,269.92 586.35,267.89 586.60,266.36 586.85,268.58 587.10,267.60 587.35,266.01 587.60,267.02 587.85,267.31 588.10,267.29 588.35,265.59 588.60,266.43 588.85,263.84 589.10,265.89 589.35,263.01 589.60,263.92 589.85,268.85 590.10,265.61 590.35,269.14 590.60,267.05 590.85,269.59 591.10,271.59 591.35,271.29 591.60,274.26 591.85,273.39 592.10,273.78 592.35,275.00 592.60,274.15 592.85,276.47 593.10,273.50 593.35,276.19 593.60,272.52 593.85,272.25 594.10,271.26 594.35,272.86 594.60,265.99 594.85,271.05 595.10,269.76 595.35,270.72 595.60,266.29 595.85,268.98 596.10,265.82 596.35,268.59 596.60,265.83 596.85,266.47 597.10,263.74 597.35,265.47 597.60,266.20 597.85,263.80 598.10,266.71 598.35,266.54 598.60,263.97 598.85,269.13 599.10,265.29 599.35,268.12 599.60,269.89 599.85,268.77 600.10,268.95 600.35,271.82 600.60,271.77 600.85,270.58 601.10,270.98 601.35,272.51 601.60,273.71 601.85,273.82 602.10,272.88 602.35,270.24 602.60,269.92 602.85,269.84 603.10,267.39 603.35,269.72 603.60,269.26 603.85,268.68 604.10,264.13 604.35,270.41 604.60,265.83 604.85,265.09 605.10,265.36 605.35,261.16 605.60,263.03 605.85,263.74 606.10,266.83 606.35,264.82 606.60,266.87 606.85,266.86 607.10,267.39 607.35,269.44 607.60,268.42 607.85,267.58 608.10,269.43 608.35,271.55 608.60,275.83 608.85,271.04 609.10,271.28 609.35,273.51 609.60,273.86 609.85,271.62 610.10,273.73 610.35,270.47 610.60,273.13 610.85,272.26 611.10,270.02 611.35,271.91 611.60,268.76 611.85,267.20 612.10,269.72 612.35,265.23 612.60,267.14 612.85,264.59 613.10,264.55 613.35,265.10 613.60,264.67 613.85,266.22 614.10,264.10 614.35,263.99 614.60,259.76 614.85,260.93 615.10,265.33 615.35,262.09 615.60,263.73 615.85,265.56 616.10,265.01 616.35,265.39 616.60,268.68 616.85,269.10 617.10,269.19 617.35,271.89 617.60,270.47 617.85,271.34 618.10,272.59 618.35,272.91 618.60,270.82 618.85,269.59 619.10,270.15 619.35,271.74 619.60,268.50 619.85,268.96 620.10,267.69 620.35,266.16 620.60,269.13 620.85,267.27 621.10,267.49 621.35,267.40 621.60,261.91 621.85,263.17 622.10,267.25 622.35,262.95 622.60,264.11 622.85,260.72 623.10,262.11 623.35,262.22 623.60,261.47 623.85,261.01 624.10,261.75 624.35,262.53 624.60,262.95 624.85,262.60 625.10,266.30 625.35,265.39 625.60,266.65 625.85,268.31 626.10,267.18 626.35,271.46 626.60,270.54 626.85,271.83 627.10,269.71 627.35,271.53 627.60,270.58 627.85,269.81 628.10,272.91 628.35,269.07 628.60,270.73 628.85,269.48 629.10,268.82 629.35,266.83 629.60,266.52 629.85,264.34 630.10,266.62 630.35,267.31 630.60,266.92 630.85,264.52 631.10,262.48 631.35,264.21 631.60,265.37 631.85,263.54 632.10,263.23 632.35,263.32 632.60,264.44 632.85,267.42 633.10,264.05 633.35,261.54 633.60,263.33 633.85,267.97 634.10,264.84 634.35,268.74 634.60,262.98 634.85,266.84 635.10,269.97 635.35,267.21 635.60,270.44 635.85,268.53 636.10,269.69 636.35,271.82 636.60,268.63 636.85,271.90 637.10,267.10 637.35,268.99 637.60,270.52 637.85,271.51 638.10,265.31 638.35,265.22 638.60,269.47 638.85,264.15 639.10,266.30 639.35,266.60 639.60,266.00 639.85,265.94 640.10,262.67 640.35,264.49 640.60,267.52 640.85,260.45 641.10,262.18 641.35,265.23 641.60,263.70 641.85,264.42 642.10,262.65 642.35,262.01 642.60,262.34 642.85,263.94 643.10,264.58 643.35,262.17 643.60,264.28 643.85,260.83 644.10,266.66 644.35,264.57 644.60,266.47 644.85,268.46 645.10,265.41 645.35,268.01 645.60,270.13 645.85,269.40 646.10,267.22 646.35,270.99 646.60,266.32 646.85,267.13 647.10,268.27 647.35,264.88 647.60,263.54 647.85,264.78 648.10,264.76 648.35,261.15 648.60,261.01 648.85,264.45 649.10,262.57 649.35,262.03 649.60,261.91 649.85,263.46 650.10,259.20 650.35,260.60 650.60,260.73 650.85,258.78 651.10,262.56 651.35,262.18 651.60,262.16 651.85,263.96 652.10,264.02 652.35,263.14 652.60,265.09 652.85,263.41 653.10,267.57 653.35,266.50 653.60,269.80 653.85,268.00 654.10,269.34 654.35,266.02 654.60,267.18 654.85,267.54 655.10,265.07 655.35,265.47 655.60,266.33 655.85,268.29 656.10,269.08 656.35,266.10 656.60,266.10 656.85,266.02 657.10,264.83 657.35,266.60 657.60,260.63 657.85,264.60 658.10,263.27 658.35,260.65 658.60,264.02 658.85,259.31 659.10,259.08 659.35,261.16 659.60,262.56 659.85,261.74 660.10,264.47 660.35,259.37 660.60,262.23 660.85,264.20 661.10,265.13 661.35,263.20 661.60,262.18 661.85,267.47 662.10,266.66 662.35,269.00 662.60,264.98 662.85,265.97 663.10,262.36 663.35,266.47 663.60,267.03 663.85,267.60 664.10,265.01 664.35,264.62 664.60,265.75 664.85,267.25 665.10,268.76 665.35,270.27 665.60,271.10 665.85,271.77 666.10,272.44 666.35,273.11 666.60,273.78 666.85,274.45 667.10,275.75 667.35,277.22 667.60,278.68 667.85,280.14 668.10,285.27 668.35,299.17 668.60,344.49 668.85,362.62 669.10,362.25 669.35,363.33 669.60,362.30 669.85,362.52 670.10,362.85 670.35,363.02 670.60,362.17 670.85,361.83 671.10,362.83 671.35,362.41 671.60,361.88 671.85,362.91 672.10,362.75 672.35,363.17 672.60,362.71 672.85,362.68 673.10,362.83 673.35,362.97 673.60,363.33 673.85,363.23 674.10,363.07 674.35,362.37 674.60,362.87 674.85,363.02 675.10,362.37 675.35,362.41 675.60,362.99 675.85,362.93 676.10,362.38 676.35,362.51 676.60,363.03 676.85,362.56 677.10,362.68 677.35,362.19 677.60,363.05 677.85,362.29 678.10,362.49 678.35,363.11 678.60,362.22 678.85,362.28 679.10,363.25 679.35,361.82 679.60,363.18 679.85,363.09 680.10,362.83 680.35,362.35 680.60,362.44 680.85,362.73 681.10,362.10 681.35,362.52 681.60,362.09 681.85,361.47 682.10,362.61 682.35,363.82 682.60,362.90 682.85,363.17 683.10,362.66 683.35,362.66 683.60,363.24 683.85,363.21 684.10,362.83 684.35,362.80 684.60,363.86 684.85,362.29 685.10,362.70 685.35,362.72 685.60,362.59 685.85,363.17 686.10,362.75 686.35,362.27 686.60,362.25 686.85,362.52 687.10,362.85 687.35,363.09 687.60,362.15 687.85,362.50 688.10,362.92 688.35,363.70 688.60,363.12 688.85,363.59 689.10,362.19 689.35,362.66 689.60,363.07 689.85,362.87 690.10,361.59 690.35,362.21 690.60,363.35 690.85,362.81 691.10,363.30 691.35,363.52 691.60,362.68 691.85,361.68 692.10,362.06 692.35,362.74 692.60,362.93 692.85,362.67 693.10,362.30 693.35,363.42 693.60,363.60 693.85,361.93 694.10,362.65 694.35,362.05 694.60,362.67 694.85,362.11 695.10,363.05 695.35,362.55 695.60,362.08 695.85,362.32 696.10,362.99 696.35,362.38 696.60,363.08 696.85,363.43 697.10,362.55 697.35,362.16 697.60,362.41 697.85,363.36 698.10,362.40 698.35,362.49 698.60,363.01 698.85,363.92 699.10,362.34 699.35,362.40 699.60,362.58 699.85,363.59 700.10,363.48 700.35,362.35 700.60,362.45 700.85,362.59 701.10,362.92 701.35,362.64 701.60,363.06 701.85,362.96 702.10,363.21 702.35,362.70 702.60,363.01 702.85,362.39 703.10,362.50 703.35,363.19 703.60,361.99 703.85,363.34 704.10,362.63 704.35,362.34 704.60,362.25 704.85,363.84 705.10,362.38 705.35,362.28 705.60,362.19 705.85,363.85 706.10,363.15 706.35,362.89 706.60,363.05 706.85,362.24 707.10,363.16 707.35,362.29 707.60,362.60 707.85,363.52 708.10,363.31 708.35,363.07 708.60,362.81 708.85,362.41 709.10,362.94 709.35,362.45 709.60,363.58 709.85,364.26 710.10,363.02 710.35,362.66 710.60,363.03 710.85,363.33 711.10,362.68 711.35,361.99 711.60,362.92 711.85,363.21 712.10,363.26 712.35,361.98 712.60,362.90 712.85,362.60 713.10,362.33 713.35,362.39 713.60,363.31 713.85,362.45 714.10,362.51 714.35,362.67 714.60,362.43 714.85,363.15 715.10,362.93 715.35,363.14 715.60,362.55 715.85,363.20 716.10,362.72 716.35,363.40 716.60,362.96 716.85,363.07 717.10,362.96 717.35,362.85 717.60,363.00 717.85,363.01 718.10,363.86 718.35,362.41 718.60,363.20 718.85,363.03 719.10,363.30 719.35,362.47 719.60,363.34 719.85,362.69 720.10,362.39 720.35,362.18 720.60,362.39 720.85,362.65 721.10,363.48 721.35,362.34 721.60,362.39 721.85,362.55 722.10,362.57 722.35,362.90 722.60,363.18 722.85,362.45 723.10,362.36 723.35,363.42 723.60,362.53 723.85,362.83 724.10,362.54 724.35,362.82 724.60,362.44 724.85,362.48 725.10,362.55 725.35,363.58 725.60,362.58 725.85,362.93 726.10,363.47 726.35,362.64 726.60,363.58 726.85,362.55 727.10,362.19 727.35,363.19 727.60,362.55 727.85,362.76 728.10,362.67 728.35,363.58 728.60,362.69 728.85,362.91 729.10,362.64 729.35,362.97 729.60,362.48" fill="none" stroke="#4472C4" stroke-width="2.6" stroke-linejoin="round" stroke-linecap="butt"/>
<polyline points="437.60,364.21 437.85,364.13 438.10,364.01 438.35,364.22 438.60,364.08 438.85,364.22 439.10,364.16 439.35,364.35 439.60,364.12 439.85,364.04 440.10,364.27 440.35,364.11 440.60,364.18 440.85,364.46 441.10,364.19 441.35,364.02 441.60,364.34 441.85,364.58 442.10,364.22 442.35,364.37 442.60,363.91 442.85,364.26 443.10,364.26 443.35,364.37 443.60,364.21 443.85,364.36 444.10,364.42 444.35,364.27 444.60,364.40 444.85,364.02 445.10,364.47 445.35,364.27 445.60,364.38 445.85,364.50 446.10,363.96 446.35,364.63 446.60,363.99 446.85,364.51 447.10,364.24 447.35,363.85 447.60,364.64 447.85,364.50 448.10,364.02 448.35,364.22 448.60,364.35 448.85,364.26 449.10,364.43 449.35,364.23 449.60,363.99 449.85,364.32 450.10,364.23 450.35,364.04 450.60,363.90 450.85,364.36 451.10,364.20 451.35,364.36 451.60,364.37 451.85,364.33 452.10,364.37 452.35,364.57 452.60,364.61 452.85,364.39 453.10,364.23 453.35,364.04 453.60,364.35 453.85,364.29 454.10,364.14 454.35,364.12 454.60,364.28 454.85,364.27 455.10,363.92 455.35,364.32 455.60,364.34 455.85,364.55 456.10,364.18 456.35,364.30 456.60,363.91 456.85,364.32 457.10,364.11 457.35,364.09 457.60,363.96 457.85,364.49 458.10,363.98 458.35,364.25 458.60,364.27 458.85,364.31 459.10,364.33 459.35,364.32 459.60,364.67 459.85,364.16 460.10,364.24 460.35,364.43 460.60,364.27 460.85,363.85 461.10,364.19 461.35,364.32 461.60,363.95 461.85,364.40 462.10,364.28 462.35,364.35 462.60,364.30 462.85,364.13 463.10,364.15 463.35,364.39 463.60,364.28 463.85,364.24 464.10,364.33 464.35,364.26 464.60,364.38 464.85,364.39 465.10,364.25 465.35,364.44 465.60,364.18 465.85,364.29 466.10,364.26 466.35,362.83 466.60,363.55 466.85,356.61 467.10,363.48 467.35,356.23 467.60,363.25 467.85,356.31 468.10,364.09 468.35,356.80 468.60,364.51 468.85,356.21 469.10,363.32 469.35,342.89 469.60,363.63 469.85,340.93 470.10,362.25 470.35,344.65 470.60,364.81 470.85,340.81 471.10,362.76 471.35,342.20 471.60,364.58 471.85,342.53 472.10,364.81 472.35,331.75 472.60,316.23 472.85,310.01 473.10,311.41 473.35,310.89 473.60,310.66 473.85,310.13 474.10,309.67 474.35,310.16 474.60,311.20 474.85,307.50 475.10,308.02 475.35,308.90 475.60,307.16 475.85,307.77 476.10,308.31 476.35,307.37 476.60,302.85 476.85,305.13 477.10,304.66 477.35,306.56 477.60,304.58 477.85,301.56 478.10,304.23 478.35,302.94 478.60,302.38 478.85,303.11 479.10,301.36 479.35,303.25 479.60,302.56 479.85,304.10 480.10,298.63 480.35,302.10 480.60,302.15 480.85,299.88 481.10,302.78 481.35,301.92 481.60,303.06 481.85,301.69 482.10,302.25 482.35,300.67 482.60,301.64 482.85,302.30 483.10,301.72 483.35,301.35 483.60,301.88 483.85,299.48 484.10,299.81 484.35,300.75 484.60,303.11 484.85,300.63 485.10,303.72 485.35,301.63 485.60,302.08 485.85,303.33 486.10,303.94 486.35,303.97 486.60,299.83 486.85,303.75 487.10,303.89 487.35,302.28 487.60,303.37 487.85,302.46 488.10,306.12 488.35,305.92 488.60,298.93 488.85,304.31 489.10,304.73 489.35,304.04 489.60,302.75 489.85,306.23 490.10,303.92 490.35,304.44 490.60,303.35 490.85,304.17 491.10,305.31 491.35,305.87 491.60,308.38 491.85,302.99 492.10,306.90 492.35,305.23 492.60,301.99 492.85,305.31 493.10,303.70 493.35,305.03 493.60,303.61 493.85,304.70 494.10,305.58 494.35,302.66 494.60,305.24 494.85,306.96 495.10,305.38 495.35,304.01 495.60,306.62 495.85,303.62 496.10,303.65 496.35,301.51 496.60,305.88 496.85,303.82 497.10,307.51 497.35,305.53 497.60,304.70 497.85,304.23 498.10,304.96 498.35,305.02 498.60,305.84 498.85,305.58 499.10,304.39 499.35,303.99 499.60,303.87 499.85,303.31 500.10,303.00 500.35,307.73 500.60,305.71 500.85,305.14 501.10,305.90 501.35,303.23 501.60,303.70 501.85,305.06 502.10,304.70 502.35,302.89 502.60,305.44 502.85,305.39 503.10,303.46 503.35,304.15 503.60,302.65 503.85,304.31 504.10,303.71 504.35,305.75 504.60,306.38 504.85,304.91 505.10,309.08 505.35,304.25 505.60,303.37 505.85,304.78 506.10,305.25 506.35,303.19 506.60,304.97 506.85,303.36 507.10,301.45 507.35,303.76 507.60,303.43 507.85,304.13 508.10,304.51 508.35,304.47 508.60,304.80 508.85,303.20 509.10,307.45 509.35,305.33 509.60,303.88 509.85,306.24 510.10,305.08 510.35,306.01 510.60,304.22 510.85,303.56 511.10,302.63 511.35,304.13 511.60,306.05 511.85,304.52 512.10,304.03 512.35,302.70 512.60,308.29 512.85,304.34 513.10,307.80 513.35,303.80 513.60,304.23 513.85,304.14 514.10,303.54 514.35,304.32 514.60,305.94 514.85,304.38 515.10,303.05 515.35,305.11 515.60,304.89 515.85,306.84 516.10,303.11 516.35,305.73 516.60,306.10 516.85,305.64 517.10,306.29 517.35,305.33 517.60,302.94 517.85,303.69 518.10,302.70 518.35,302.61 518.60,306.35 518.85,304.19 519.10,302.59 519.35,301.34 519.60,307.17 519.85,307.18 520.10,304.21 520.35,305.48 520.60,306.51 520.85,304.35 521.10,306.19 521.35,308.51 521.60,304.99 521.85,304.76 522.10,303.96 522.35,303.48 522.60,304.67 522.85,305.33 523.10,306.01 523.35,307.55 523.60,305.65 523.85,303.40 524.10,303.95 524.35,301.75 524.60,305.21 524.85,307.77 525.10,303.67 525.35,303.35 525.60,306.81 525.85,307.51 526.10,304.74 526.35,303.86 526.60,306.74 526.85,305.51 527.10,306.20 527.35,306.84 527.60,307.05 527.85,304.77 528.10,305.57 528.35,306.04 528.60,309.08 528.85,302.25 529.10,306.47 529.35,305.21 529.60,306.78 529.85,304.40 530.10,307.37 530.35,304.85 530.60,305.30 530.85,303.56 531.10,306.72 531.35,306.02 531.60,305.38 531.85,301.72 532.10,307.32 532.35,304.55 532.60,306.04 532.85,304.52 533.10,303.99 533.35,304.79 533.60,304.61 533.85,304.58 534.10,305.94 534.35,305.36 534.60,307.62 534.85,305.58 535.10,306.23 535.35,305.43 535.60,303.87 535.85,304.43 536.10,304.29 536.35,303.30 536.60,308.77 536.85,304.36 537.10,305.07 537.35,305.19 537.60,307.09 537.85,304.18 538.10,303.24 538.35,303.43 538.60,305.18 538.85,304.04 539.10,303.60 539.35,302.19 539.60,303.12 539.85,304.83 540.10,304.90 540.35,304.79 540.60,304.70 540.85,305.83 541.10,303.84 541.35,306.14 541.60,306.32 541.85,304.50 542.10,305.96 542.35,305.44 542.60,308.32 542.85,303.82 543.10,305.07 543.35,305.27 543.60,304.34 543.85,304.74 544.10,306.17 544.35,301.92 544.60,305.78 544.85,303.54 545.10,302.20 545.35,306.05 545.60,304.93 545.85,306.36 546.10,303.43 546.35,305.60 546.60,306.80 546.85,303.01 547.10,303.64 547.35,306.48 547.60,303.23 547.85,304.78 548.10,300.83 548.35,302.40 548.60,305.96 548.85,305.51 549.10,306.46 549.35,304.88 549.60,305.02 549.85,303.94 550.10,304.96 550.35,307.40 550.60,306.37 550.85,302.88 551.10,303.29 551.35,305.35 551.60,305.31 551.85,305.36 552.10,305.07 552.35,307.74 552.60,303.70 552.85,306.14 553.10,304.87 553.35,309.07 553.60,304.74 553.85,303.01 554.10,308.62 554.35,302.73 554.60,304.37 554.85,306.26 555.10,307.60 555.35,303.29 555.60,304.71 555.85,304.18 556.10,305.54 556.35,306.37 556.60,303.75 556.85,306.62 557.10,303.71 557.35,307.74 557.60,306.57 557.85,307.40 558.10,303.07 558.35,307.87 558.60,306.91 558.85,304.09 559.10,304.77 559.35,301.68 559.60,302.24 559.85,304.16 560.10,304.05 560.35,308.00 560.60,306.52 560.85,305.65 561.10,305.41 561.35,307.30 561.60,306.60 561.85,306.47 562.10,303.47 562.35,304.47 562.60,305.66 562.85,305.57 563.10,304.68 563.35,306.24 563.60,305.56 563.85,307.85 564.10,304.09 564.35,303.63 564.60,304.58 564.85,304.40 565.10,304.57 565.35,301.94 565.60,304.83 565.85,307.23 566.10,306.80 566.35,304.03 566.60,303.48 566.85,303.94 567.10,303.84 567.35,304.86 567.60,307.50 567.85,306.28 568.10,308.01 568.35,305.77 568.60,307.31 568.85,305.01 569.10,305.43 569.35,308.24 569.60,304.01 569.85,303.97 570.10,307.36 570.35,304.94 570.60,304.04 570.85,305.63 571.10,303.83 571.35,304.88 571.60,303.49 571.85,304.89 572.10,305.44 572.35,304.38 572.60,303.95 572.85,304.79 573.10,305.90 573.35,306.44 573.60,305.78 573.85,306.10 574.10,304.87 574.35,304.93 574.60,305.33 574.85,305.20 575.10,304.93 575.35,302.73 575.60,303.30 575.85,306.12 576.10,304.54 576.35,305.73 576.60,305.36 576.85,305.60 577.10,306.20 577.35,307.37 577.60,309.11 577.85,304.90 578.10,303.35 578.35,306.65 578.60,304.42 578.85,305.83 579.10,304.78 579.35,306.50 579.60,305.59 579.85,305.40 580.10,309.00 580.35,304.89 580.60,305.45 580.85,309.17 581.10,304.20 581.35,305.29 581.60,304.91 581.85,304.67 582.10,305.90 582.35,306.95 582.60,305.95 582.85,305.92 583.10,301.72 583.35,302.32 583.60,306.02 583.85,305.91 584.10,304.74 584.35,304.36 584.60,306.35 584.85,306.85 585.10,302.18 585.35,303.58 585.60,307.73 585.85,308.07 586.10,306.58 586.35,304.91 586.60,304.39 586.85,305.81 587.10,307.84 587.35,304.92 587.60,304.31 587.85,305.27 588.10,306.06 588.35,304.36 588.60,305.37 588.85,307.07 589.10,305.13 589.35,307.35 589.60,303.74 589.85,304.53 590.10,306.87 590.35,304.95 590.60,303.29 590.85,308.71 591.10,305.51 591.35,302.66 591.60,307.77 591.85,305.56 592.10,307.57 592.35,305.40 592.60,309.14 592.85,307.89 593.10,306.16 593.35,305.07 593.60,304.69 593.85,304.62 594.10,303.46 594.35,304.18 594.60,304.12 594.85,306.87 595.10,305.55 595.35,300.19 595.60,301.66 595.85,303.97 596.10,304.12 596.35,303.72 596.60,305.96 596.85,302.16 597.10,305.91 597.35,305.44 597.60,301.81 597.85,308.66 598.10,304.73 598.35,308.09 598.60,306.37 598.85,305.46 599.10,305.88 599.35,305.04 599.60,306.56 599.85,305.48 600.10,307.24 600.35,305.95 600.60,307.57 600.85,304.27 601.10,307.42 601.35,304.21 601.60,306.01 601.85,305.83 602.10,303.43 602.35,305.17 602.60,308.42 602.85,304.54 603.10,310.05 603.35,304.92 603.60,306.01 603.85,307.63 604.10,305.23 604.35,305.87 604.60,302.11 604.85,306.08 605.10,302.22 605.35,303.13 605.60,306.37 605.85,306.71 606.10,303.24 606.35,305.61 606.60,305.13 606.85,305.81 607.10,307.36 607.35,306.00 607.60,306.96 607.85,307.90 608.10,305.88 608.35,302.50 608.60,302.78 608.85,305.51 609.10,305.20 609.35,304.58 609.60,303.20 609.85,304.90 610.10,306.21 610.35,306.07 610.60,303.58 610.85,301.18 611.10,306.46 611.35,308.79 611.60,304.12 611.85,305.57 612.10,305.22 612.35,303.43 612.60,305.34 612.85,307.62 613.10,308.67 613.35,305.54 613.60,307.36 613.85,304.99 614.10,307.55 614.35,306.05 614.60,307.88 614.85,306.07 615.10,306.21 615.35,304.51 615.60,303.28 615.85,305.79 616.10,306.90 616.35,302.29 616.60,304.90 616.85,304.49 617.10,304.50 617.35,303.12 617.60,303.85 617.85,304.40 618.10,304.25 618.35,306.92 618.60,306.51 618.85,305.69 619.10,305.01 619.35,304.20 619.60,303.09 619.85,302.35 620.10,302.24 620.35,304.04 620.60,303.22 620.85,304.16 621.10,306.98 621.35,304.73 621.60,304.90 621.85,305.43 622.10,308.56 622.35,307.53 622.60,306.54 622.85,302.91 623.10,306.97 623.35,306.13 623.60,307.39 623.85,306.38 624.10,305.01 624.35,308.98 624.60,310.23 624.85,304.49 625.10,305.52 625.35,306.58 625.60,304.00 625.85,304.00 626.10,309.03 626.35,305.87 626.60,303.78 626.85,306.70 627.10,306.12 627.35,304.04 627.60,306.05 627.85,307.58 628.10,306.74 628.35,307.79 628.60,304.71 628.85,308.45 629.10,303.98 629.35,308.33 629.60,305.56 629.85,308.04 630.10,306.15 630.35,303.96 630.60,303.80 630.85,303.50 631.10,305.79 631.35,305.47 631.60,305.27 631.85,304.64 632.10,306.31 632.35,303.85 632.60,305.13 632.85,303.79 633.10,304.88 633.35,304.56 633.60,306.87 633.85,306.36 634.10,307.80 634.35,306.17 634.60,305.97 634.85,304.31 635.10,307.76 635.35,300.38 635.60,305.90 635.85,303.63 636.10,303.99 636.35,309.85 636.60,306.14 636.85,303.29 637.10,309.70 637.35,304.45 637.60,307.22 637.85,306.49 638.10,305.35 638.35,308.79 638.60,305.41 638.85,306.79 639.10,306.97 639.35,304.58 639.60,299.97 639.85,305.18 640.10,304.84 640.35,305.83 640.60,306.94 640.85,305.33 641.10,303.26 641.35,305.45 641.60,304.30 641.85,306.14 642.10,301.63 642.35,308.48 642.60,304.81 642.85,304.89 643.10,305.34 643.35,307.62 643.60,307.66 643.85,306.18 644.10,305.63 644.35,307.79 644.60,307.55 644.85,304.88 645.10,304.11 645.35,306.73 645.60,306.96 645.85,307.01 646.10,301.75 646.35,305.02 646.60,305.93 646.85,304.18 647.10,302.06 647.35,303.91 647.60,308.19 647.85,305.98 648.10,306.51 648.35,306.41 648.60,307.85 648.85,306.50 649.10,307.64 649.35,305.30 649.60,305.79 649.85,308.19 650.10,308.68 650.35,306.66 650.60,304.80 650.85,305.06 651.10,305.99 651.35,311.33 651.60,306.70 651.85,307.11 652.10,306.45 652.35,307.91 652.60,306.61 652.85,307.00 653.10,301.43 653.35,304.75 653.60,306.23 653.85,305.99 654.10,306.11 654.35,305.61 654.60,306.59 654.85,305.95 655.10,304.24 655.35,304.56 655.60,305.42 655.85,303.74 656.10,305.57 656.35,307.56 656.60,308.82 656.85,307.09 657.10,306.05 657.35,305.30 657.60,304.18 657.85,306.90 658.10,307.29 658.35,304.69 658.60,304.02 658.85,306.76 659.10,305.41 659.35,303.71 659.60,305.45 659.85,306.07 660.10,309.41 660.35,303.80 660.60,304.92 660.85,305.78 661.10,306.76 661.35,308.05 661.60,306.16 661.85,306.18 662.10,304.19 662.35,308.00 662.60,303.63 662.85,305.95 663.10,304.06 663.35,307.61 663.60,305.45 663.85,304.01 664.10,305.83 664.35,308.45 664.60,306.57 664.85,305.15 665.10,308.34 665.35,308.42 665.60,305.65 665.85,307.61 666.10,304.92 666.35,307.99 666.60,309.08 666.85,307.33 667.10,303.60 667.35,307.48 667.60,306.07 667.85,305.66 668.10,325.42 668.35,364.26 668.60,364.44 668.85,364.07 669.10,364.24 669.35,364.19 669.60,364.58 669.85,364.59 670.10,364.77 670.35,364.30 670.60,364.31 670.85,364.14 671.10,364.00 671.35,364.32 671.60,364.32 671.85,364.19 672.10,363.99 672.35,364.42 672.60,364.15 672.85,364.31 673.10,364.33 673.35,364.12 673.60,364.41 673.85,364.46 674.10,364.15 674.35,364.27 674.60,364.32 674.85,364.29 675.10,364.18 675.35,364.34 675.60,364.13 675.85,364.19 676.10,364.00 676.35,364.04 676.60,364.11 676.85,364.31 677.10,364.25 677.35,364.38 677.60,363.75 677.85,364.31 678.10,364.17 678.35,364.02 678.60,364.52 678.85,364.42 679.10,364.34 679.35,364.45 679.60,364.50 679.85,364.36 680.10,364.03 680.35,364.14 680.60,364.26 680.85,364.26 681.10,364.57 681.35,364.14 681.60,364.19 681.85,364.47 682.10,364.23 682.35,364.30 682.60,364.36 682.85,364.45 683.10,364.39 683.35,364.44 683.60,364.18 683.85,364.20 684.10,364.21 684.35,364.30 684.60,364.34 684.85,363.89 685.10,364.61 685.35,364.05 685.60,364.20 685.85,364.26 686.10,364.36 686.35,364.31 686.60,364.48 686.85,364.52 687.10,364.29 687.35,364.57 687.60,364.11 687.85,364.06 688.10,364.81 688.35,364.55 688.60,364.22 688.85,364.23 689.10,364.25 689.35,364.19 689.60,364.13 689.85,364.11 690.10,363.94 690.35,364.26 690.60,364.11 690.85,364.56 691.10,364.29 691.35,364.49 691.60,364.01 691.85,363.84 692.10,364.17 692.35,364.50 692.60,364.29 692.85,364.26 693.10,364.23 693.35,364.07 693.60,364.09 693.85,364.75 694.10,364.02 694.35,364.36 694.60,364.37 694.85,364.01 695.10,364.32 695.35,364.52 695.60,364.51 695.85,364.26 696.10,364.10 696.35,363.99 696.60,364.30 696.85,364.35 697.10,363.97 697.35,364.35 697.60,364.00 697.85,364.22 698.10,364.22 698.35,364.31 698.60,364.21 698.85,364.35 699.10,364.39 699.35,364.29 699.60,364.39 699.85,364.21 700.10,364.25 700.35,364.31 700.60,364.30 700.85,364.31 701.10,363.95 701.35,364.27 701.60,364.37 701.85,364.32 702.10,364.15 702.35,364.30 702.60,364.29 702.85,364.31 703.10,364.24 703.35,364.19 703.60,364.19 703.85,364.57 704.10,364.46 704.35,364.75 704.60,364.12 704.85,364.06 705.10,364.03 705.35,364.24 705.60,364.06 705.85,364.27 706.10,364.29 706.35,364.55 706.60,364.41 706.85,364.37 707.10,364.10 707.35,363.96 707.60,364.35 707.85,364.20 708.10,364.22 708.35,364.41 708.60,364.58 708.85,364.40 709.10,364.53 709.35,364.32 709.60,364.29 709.85,364.30 710.10,364.30 710.35,364.18 710.60,364.44 710.85,364.10 711.10,364.57 711.35,364.26 711.60,364.20 711.85,364.41 712.10,364.56 712.35,364.15 712.60,364.39 712.85,364.12 713.10,364.13 713.35,364.27 713.60,364.27 713.85,364.09 714.10,364.20 714.35,364.44 714.60,364.24 714.85,364.17 715.10,364.23 715.35,364.23 715.60,364.29 715.85,364.29 716.10,364.44 716.35,364.53 716.60,364.06 716.85,364.38 717.10,364.23 717.35,364.54 717.60,364.24 717.85,364.42 718.10,363.73 718.35,364.45 718.60,364.44 718.85,364.10 719.10,364.06 719.35,364.65 719.60,364.22 719.85,364.11 720.10,364.49 720.35,364.14 720.60,364.36 720.85,364.45 721.10,364.33 721.35,364.35 721.60,364.52 721.85,363.86 722.10,364.35 722.35,364.40 722.60,364.11 722.85,364.28 723.10,364.03 723.35,364.32 723.60,364.20 723.85,364.25 724.10,364.24 724.35,364.31 724.60,364.29 724.85,363.96 725.10,364.39 725.35,364.37 725.60,364.33 725.85,364.16 726.10,364.19 726.35,364.10 726.60,364.51 726.85,364.22 727.10,364.30 727.35,364.32 727.60,364.24 727.85,364.62 728.10,364.22 728.35,364.24 728.60,364.53 728.85,364.28 729.10,363.99 729.35,364.34 729.60,364.16" fill="none" stroke="#FF0000" stroke-width="2.4" stroke-linejoin="round" stroke-linecap="butt"/>
</svg></body></html>
